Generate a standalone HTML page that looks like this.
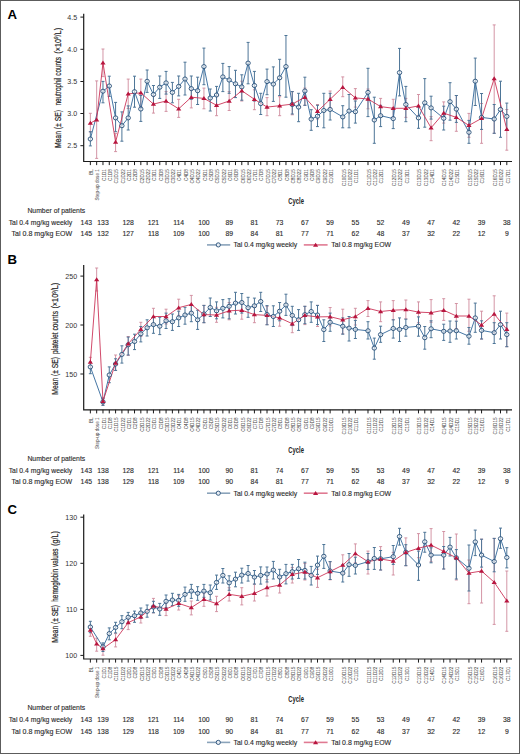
<!DOCTYPE html>
<html><head><meta charset="utf-8"><style>
html,body{margin:0;padding:0;background:#fff;}
body{width:520px;height:754px;overflow:hidden;}
svg{display:block;}
#w{width:520px;height:754px;}
text{font-family:"Liberation Sans",sans-serif;fill:#2a2a2a;}
.pl{font-size:13.2px;font-weight:bold;fill:#000;}
.yt{font-size:8.5px;fill:#222;stroke:#222;stroke-width:0.18px;}
.ytl{font-size:7.1px;text-anchor:end;fill:#333;}
.xl{font-size:4.65px;text-anchor:end;fill:#444;}
.cy{font-size:9.7px;font-weight:bold;fill:#222;}
.tb{font-size:6.85px;fill:#2a2a2a;stroke:#2a2a2a;stroke-width:0.12px;}
.ax{fill:none;stroke:#1a1a1a;stroke-width:1.2;}
.tk{fill:none;stroke:#1a1a1a;stroke-width:1.0;}
</style></head><body>
<div id="w"><svg width="520" height="754" viewBox="0 0 520 754">
<rect x="0" y="0" width="520" height="754" fill="#fff"/>
<g>
<rect x="0.5" y="0.5" width="519" height="753" fill="#fff" stroke="#5c5c5c" stroke-width="1"/>
<text x="7.6" y="18.5" class="pl">A</text>
<text class="yt" transform="translate(60.7,148.1) rotate(-90)" textLength="38.2" lengthAdjust="spacingAndGlyphs">Mean (± SE)</text>
<text class="yt" transform="translate(60.7,105.6) rotate(-90)" textLength="48.6" lengthAdjust="spacingAndGlyphs">neutrophil counts</text>
<text class="yt" transform="translate(60.7,53.8) rotate(-90)" textLength="25.9" lengthAdjust="spacingAndGlyphs">(×10<tspan font-size="5.4" dy="-2.7">9</tspan><tspan dy="2.7">/L)</tspan></text>
<path d="M83.7 13.8V161.5H512" class="ax"/>
<path d="M80.4 17.1H83.7" class="tk"/>
<text x="77.2" y="19.6" class="ytl">4.5</text>
<path d="M80.4 49.3H83.7" class="tk"/>
<text x="77.2" y="51.8" class="ytl">4.0</text>
<path d="M80.4 81.5H83.7" class="tk"/>
<text x="77.2" y="84.0" class="ytl">3.5</text>
<path d="M80.4 113.5H83.7" class="tk"/>
<text x="77.2" y="116.0" class="ytl">3.0</text>
<path d="M80.4 145.7H83.7" class="tk"/>
<text x="77.2" y="148.2" class="ytl">2.5</text>
<path d="M90.35 161.5v3.6M96.66 161.5v3.6M102.97 161.5v3.6M109.28 161.5v3.6M115.59 161.5v3.6M121.90 161.5v3.6M128.21 161.5v3.6M134.52 161.5v3.6M140.83 161.5v3.6M147.14 161.5v3.6M153.45 161.5v3.6M159.76 161.5v3.6M166.07 161.5v3.6M172.38 161.5v3.6M178.69 161.5v3.6M185.00 161.5v3.6M191.31 161.5v3.6M197.62 161.5v3.6M203.93 161.5v3.6M210.24 161.5v3.6M216.55 161.5v3.6M222.86 161.5v3.6M229.17 161.5v3.6M235.48 161.5v3.6M241.79 161.5v3.6M248.10 161.5v3.6M254.41 161.5v3.6M260.72 161.5v3.6M267.03 161.5v3.6M273.34 161.5v3.6M279.65 161.5v3.6M285.96 161.5v3.6M292.27 161.5v3.6M298.58 161.5v3.6M304.89 161.5v3.6M311.20 161.5v3.6M317.51 161.5v3.6M323.82 161.5v3.6M330.13 161.5v3.6M342.75 161.5v3.6M349.06 161.5v3.6M355.37 161.5v3.6M367.99 161.5v3.6M374.30 161.5v3.6M380.61 161.5v3.6M393.23 161.5v3.6M399.54 161.5v3.6M405.85 161.5v3.6M418.47 161.5v3.6M424.78 161.5v3.6M431.09 161.5v3.6M443.71 161.5v3.6M450.02 161.5v3.6M456.33 161.5v3.6M468.95 161.5v3.6M475.26 161.5v3.6M481.57 161.5v3.6M494.19 161.5v3.6M500.50 161.5v3.6M506.81 161.5v3.6" class="tk"/>
<text class="xl" transform="translate(93.10,169.1) rotate(-90)">BL</text>
<text class="xl" transform="translate(99.41,169.1) rotate(-90)">Step-up dose 1</text>
<text class="xl" transform="translate(105.72,169.1) rotate(-90)">C1D1</text>
<text class="xl" transform="translate(112.03,169.1) rotate(-90)">C1D8</text>
<text class="xl" transform="translate(118.34,169.1) rotate(-90)">C1D15</text>
<text class="xl" transform="translate(124.65,169.1) rotate(-90)">C1D22</text>
<text class="xl" transform="translate(130.96,169.1) rotate(-90)">C2D1</text>
<text class="xl" transform="translate(137.27,169.1) rotate(-90)">C2D8</text>
<text class="xl" transform="translate(143.58,169.1) rotate(-90)">C2D15</text>
<text class="xl" transform="translate(149.89,169.1) rotate(-90)">C2D22</text>
<text class="xl" transform="translate(156.20,169.1) rotate(-90)">C3D1</text>
<text class="xl" transform="translate(162.51,169.1) rotate(-90)">C3D8</text>
<text class="xl" transform="translate(168.82,169.1) rotate(-90)">C3D15</text>
<text class="xl" transform="translate(175.13,169.1) rotate(-90)">C3D22</text>
<text class="xl" transform="translate(181.44,169.1) rotate(-90)">C4D1</text>
<text class="xl" transform="translate(187.75,169.1) rotate(-90)">C4D8</text>
<text class="xl" transform="translate(194.06,169.1) rotate(-90)">C4D15</text>
<text class="xl" transform="translate(200.37,169.1) rotate(-90)">C4D22</text>
<text class="xl" transform="translate(206.68,169.1) rotate(-90)">C5D1</text>
<text class="xl" transform="translate(212.99,169.1) rotate(-90)">C5D8</text>
<text class="xl" transform="translate(219.30,169.1) rotate(-90)">C5D15</text>
<text class="xl" transform="translate(225.61,169.1) rotate(-90)">C5D22</text>
<text class="xl" transform="translate(231.92,169.1) rotate(-90)">C6D1</text>
<text class="xl" transform="translate(238.23,169.1) rotate(-90)">C6D8</text>
<text class="xl" transform="translate(244.54,169.1) rotate(-90)">C6D15</text>
<text class="xl" transform="translate(250.85,169.1) rotate(-90)">C6D22</text>
<text class="xl" transform="translate(257.16,169.1) rotate(-90)">C7D1</text>
<text class="xl" transform="translate(263.47,169.1) rotate(-90)">C7D8</text>
<text class="xl" transform="translate(269.78,169.1) rotate(-90)">C7D15</text>
<text class="xl" transform="translate(276.09,169.1) rotate(-90)">C7D22</text>
<text class="xl" transform="translate(282.40,169.1) rotate(-90)">C8D1</text>
<text class="xl" transform="translate(288.71,169.1) rotate(-90)">C8D8</text>
<text class="xl" transform="translate(295.02,169.1) rotate(-90)">C8D15</text>
<text class="xl" transform="translate(301.33,169.1) rotate(-90)">C8D22</text>
<text class="xl" transform="translate(307.64,169.1) rotate(-90)">C9D1</text>
<text class="xl" transform="translate(313.95,169.1) rotate(-90)">C9D8</text>
<text class="xl" transform="translate(320.26,169.1) rotate(-90)">C9D15</text>
<text class="xl" transform="translate(326.57,169.1) rotate(-90)">C9D22</text>
<text class="xl" transform="translate(332.88,169.1) rotate(-90)">C10D1</text>
<text class="xl" transform="translate(345.50,169.1) rotate(-90)">C10D15</text>
<text class="xl" transform="translate(351.81,169.1) rotate(-90)">C10D22</text>
<text class="xl" transform="translate(358.12,169.1) rotate(-90)">C11D1</text>
<text class="xl" transform="translate(370.74,169.1) rotate(-90)">C11D15</text>
<text class="xl" transform="translate(377.05,169.1) rotate(-90)">C11D22</text>
<text class="xl" transform="translate(383.36,169.1) rotate(-90)">C12D1</text>
<text class="xl" transform="translate(395.98,169.1) rotate(-90)">C12D15</text>
<text class="xl" transform="translate(402.29,169.1) rotate(-90)">C12D22</text>
<text class="xl" transform="translate(408.60,169.1) rotate(-90)">C13D1</text>
<text class="xl" transform="translate(421.22,169.1) rotate(-90)">C13D15</text>
<text class="xl" transform="translate(427.53,169.1) rotate(-90)">C13D22</text>
<text class="xl" transform="translate(433.84,169.1) rotate(-90)">C14D1</text>
<text class="xl" transform="translate(446.46,169.1) rotate(-90)">C14D15</text>
<text class="xl" transform="translate(452.77,169.1) rotate(-90)">C14D22</text>
<text class="xl" transform="translate(459.08,169.1) rotate(-90)">C15D1</text>
<text class="xl" transform="translate(471.70,169.1) rotate(-90)">C15D15</text>
<text class="xl" transform="translate(478.01,169.1) rotate(-90)">C15D22</text>
<text class="xl" transform="translate(484.32,169.1) rotate(-90)">C16D1</text>
<text class="xl" transform="translate(496.94,169.1) rotate(-90)">C16D15</text>
<text class="xl" transform="translate(503.25,169.1) rotate(-90)">C16D22</text>
<text class="xl" transform="translate(509.56,169.1) rotate(-90)">C17D1</text>
<text x="288.3" y="204.4" class="cy" textLength="15.6" lengthAdjust="spacingAndGlyphs">Cycle</text>
<text x="27.4" y="212.7" class="tb">Number of patients</text>
<text x="72.2" y="224.7" class="tb" text-anchor="end">Tal 0.4 mg/kg weekly</text>
<text x="72.2" y="236.1" class="tb" text-anchor="end" textLength="60.6" lengthAdjust="spacingAndGlyphs">Tal 0.8 mg/kg EOW</text>
<text x="86.3" y="224.7" class="tb" text-anchor="middle">143</text>
<text x="103.0" y="224.7" class="tb" text-anchor="middle">133</text>
<text x="128.2" y="224.7" class="tb" text-anchor="middle">128</text>
<text x="153.4" y="224.7" class="tb" text-anchor="middle">121</text>
<text x="178.7" y="224.7" class="tb" text-anchor="middle">114</text>
<text x="203.9" y="224.7" class="tb" text-anchor="middle">100</text>
<text x="229.2" y="224.7" class="tb" text-anchor="middle">89</text>
<text x="254.4" y="224.7" class="tb" text-anchor="middle">81</text>
<text x="279.6" y="224.7" class="tb" text-anchor="middle">73</text>
<text x="304.9" y="224.7" class="tb" text-anchor="middle">67</text>
<text x="330.1" y="224.7" class="tb" text-anchor="middle">59</text>
<text x="355.4" y="224.7" class="tb" text-anchor="middle">55</text>
<text x="380.6" y="224.7" class="tb" text-anchor="middle">52</text>
<text x="405.9" y="224.7" class="tb" text-anchor="middle">49</text>
<text x="431.1" y="224.7" class="tb" text-anchor="middle">47</text>
<text x="456.3" y="224.7" class="tb" text-anchor="middle">42</text>
<text x="481.6" y="224.7" class="tb" text-anchor="middle">39</text>
<text x="506.8" y="224.7" class="tb" text-anchor="middle">38</text>
<text x="86.3" y="236.1" class="tb" text-anchor="middle">145</text>
<text x="103.0" y="236.1" class="tb" text-anchor="middle">132</text>
<text x="128.2" y="236.1" class="tb" text-anchor="middle">127</text>
<text x="153.4" y="236.1" class="tb" text-anchor="middle">118</text>
<text x="178.7" y="236.1" class="tb" text-anchor="middle">109</text>
<text x="203.9" y="236.1" class="tb" text-anchor="middle">100</text>
<text x="229.2" y="236.1" class="tb" text-anchor="middle">89</text>
<text x="254.4" y="236.1" class="tb" text-anchor="middle">84</text>
<text x="279.6" y="236.1" class="tb" text-anchor="middle">81</text>
<text x="304.9" y="236.1" class="tb" text-anchor="middle">77</text>
<text x="330.1" y="236.1" class="tb" text-anchor="middle">71</text>
<text x="355.4" y="236.1" class="tb" text-anchor="middle">62</text>
<text x="380.6" y="236.1" class="tb" text-anchor="middle">48</text>
<text x="405.9" y="236.1" class="tb" text-anchor="middle">37</text>
<text x="431.1" y="236.1" class="tb" text-anchor="middle">32</text>
<text x="456.3" y="236.1" class="tb" text-anchor="middle">22</text>
<text x="481.6" y="236.1" class="tb" text-anchor="middle">12</text>
<text x="506.8" y="236.1" class="tb" text-anchor="middle">9</text>
<path d="M207 244.9H230.2" stroke="#8aa3ba" stroke-width="1.6"/>
<circle cx="218.3" cy="244.9" r="2.1" fill="#e8eef4" stroke="#254d76" stroke-width="0.9"/>
<text x="233.6" y="247.3" class="tb">Tal 0.4 mg/kg weekly</text>
<path d="M303.8 244.9H327.6" stroke="#e07a92" stroke-width="1.6"/>
<path d="M315.6 242.8l2.6 4h-5.2z" fill="#b8163f"/>
<text x="331.3" y="247.3" class="tb" textLength="59.8" lengthAdjust="spacingAndGlyphs">Tal 0.8 mg/kg EOW</text>
<path d="M90.35 113.3V132.0M88.85 113.3h3M88.85 132.0h3M96.66 80.9V158.4M95.16 80.9h3M95.16 158.4h3M102.97 49.0V76.6M101.47 49.0h3M101.47 76.6h3M115.59 133.4V151.6M114.09 133.4h3M114.09 151.6h3M128.21 79.1V108.5M126.71 79.1h3M126.71 108.5h3M140.83 79.1V106.7M139.33 79.1h3M139.33 106.7h3M153.45 95.9V113.1M151.95 95.9h3M151.95 113.1h3M166.07 91.6V111.4M164.57 91.6h3M164.57 111.4h3M178.69 99.3V117.4M177.19 99.3h3M177.19 117.4h3M191.31 89.8V107.9M189.81 89.8h3M189.81 107.9h3M203.93 88.1V108.8M202.43 88.1h3M202.43 108.8h3M216.55 95.9V115.7M215.05 95.9h3M215.05 115.7h3M229.17 91.6V110.5M227.67 91.6h3M227.67 110.5h3M241.79 81.2V101.0M240.29 81.2h3M240.29 101.0h3M254.41 89.8V109.7M252.91 89.8h3M252.91 109.7h3M267.03 97.6V115.7M265.53 97.6h3M265.53 115.7h3M279.65 96.7V115.7M278.15 96.7h3M278.15 115.7h3M292.27 91.6V114.8M290.77 91.6h3M290.77 114.8h3M304.89 88.1V105.3M303.39 88.1h3M303.39 105.3h3M317.51 104.5V119.0M316.01 104.5h3M316.01 119.0h3M330.13 91.0V107.9M328.63 91.0h3M328.63 107.9h3M342.75 76.9V96.7M341.25 76.9h3M341.25 96.7h3M355.37 88.6V107.1M353.87 88.6h3M353.87 107.1h3M367.99 89.0V108.8M366.49 89.0h3M366.49 108.8h3M380.61 98.4V115.7M379.11 98.4h3M379.11 115.7h3M393.23 99.3V117.4M391.73 99.3h3M391.73 117.4h3M405.85 98.4V117.4M404.35 98.4h3M404.35 117.4h3M418.47 94.5V115.7M416.97 94.5h3M416.97 115.7h3M431.09 116.6V140.7M429.59 116.6h3M429.59 140.7h3M443.71 101.9V123.1M442.21 101.9h3M442.21 123.1h3M456.33 95.5V131.3M454.83 95.5h3M454.83 131.3h3M468.95 113.4V137.3M467.45 113.4h3M467.45 137.3h3M481.57 103.5V143.3M480.07 103.5h3M480.07 143.3h3M494.19 24.9V133.3M492.69 24.9h3M492.69 133.3h3M506.81 109.5V150.2M505.31 109.5h3M505.31 150.2h3" stroke="#cf8a9c" stroke-width="0.9" fill="none"/>
<path d="M90.35 131.7V145.9M88.85 131.7h3M88.85 145.9h3M102.97 81.4V102.8M101.47 81.4h3M101.47 102.8h3M109.28 76.2V96.4M107.78 76.2h3M107.78 96.4h3M115.59 102.4V131.7M114.09 102.4h3M114.09 131.7h3M121.90 111.9V141.2M120.40 111.9h3M120.40 141.2h3M128.21 105.9V130.0M126.71 105.9h3M126.71 130.0h3M134.52 76.2V107.2M133.02 76.2h3M133.02 107.2h3M140.83 95.5V121.4M139.33 95.5h3M139.33 121.4h3M147.14 70.0V92.4M145.64 70.0h3M145.64 92.4h3M153.45 85.5V104.5M151.95 85.5h3M151.95 104.5h3M159.76 76.0V98.4M158.26 76.0h3M158.26 98.4h3M166.07 71.4V94.1M164.57 71.4h3M164.57 94.1h3M172.38 82.4V102.8M170.88 82.4h3M170.88 102.8h3M178.69 76.0V95.9M177.19 76.0h3M177.19 95.9h3M185.00 62.2V95.0M183.50 62.2h3M183.50 95.0h3M191.31 76.0V99.3M189.81 76.0h3M189.81 99.3h3M197.62 77.2V104.5M196.12 77.2h3M196.12 104.5h3M203.93 48.1V84.7M202.43 48.1h3M202.43 84.7h3M210.24 89.0V111.0M208.74 89.0h3M208.74 111.0h3M216.55 86.4V105.3M215.05 86.4h3M215.05 105.3h3M222.86 63.4V91.6M221.36 63.4h3M221.36 91.6h3M229.17 66.6V93.3M227.67 66.6h3M227.67 93.3h3M235.48 70.3V97.6M233.98 70.3h3M233.98 97.6h3M241.79 74.8V100.2M240.29 74.8h3M240.29 100.2h3M248.10 42.4V83.8M246.60 42.4h3M246.60 83.8h3M254.41 71.4V101.0M252.91 71.4h3M252.91 101.0h3M260.72 93.3V114.5M259.22 93.3h3M259.22 114.5h3M267.03 69.1V94.7M265.53 69.1h3M265.53 94.7h3M273.34 66.9V101.4M271.84 66.9h3M271.84 101.4h3M279.65 59.3V95.5M278.15 59.3h3M278.15 95.5h3M285.96 35.5V97.2M284.46 35.5h3M284.46 97.2h3M292.27 91.6V114.0M290.77 91.6h3M290.77 114.0h3M298.58 93.3V121.7M297.08 93.3h3M297.08 121.7h3M304.89 77.2V105.3M303.39 77.2h3M303.39 105.3h3M311.20 109.7V130.3M309.70 109.7h3M309.70 130.3h3M317.51 105.3V126.6M316.01 105.3h3M316.01 126.6h3M323.82 93.3V127.8M322.32 93.3h3M322.32 127.8h3M330.13 93.3V120.0M328.63 93.3h3M328.63 120.0h3M342.75 105.7V127.8M341.25 105.7h3M341.25 127.8h3M349.06 94.5V127.8M347.56 94.5h3M347.56 127.8h3M355.37 101.0V123.1M353.87 101.0h3M353.87 123.1h3M367.99 68.3V116.6M366.49 68.3h3M366.49 116.6h3M374.30 97.2V143.3M372.80 97.2h3M372.80 143.3h3M380.61 105.3V126.6M379.11 105.3h3M379.11 126.6h3M393.23 108.0V128.6M391.73 108.0h3M391.73 128.6h3M399.54 48.4V95.9M398.04 48.4h3M398.04 95.9h3M405.85 86.4V121.7M404.35 86.4h3M404.35 121.7h3M418.47 107.1V128.3M416.97 107.1h3M416.97 128.3h3M424.78 78.6V127.2M423.28 78.6h3M423.28 127.2h3M431.09 96.2V119.1M429.59 96.2h3M429.59 119.1h3M443.71 106.2V130.0M442.21 106.2h3M442.21 130.0h3M450.02 82.7V120.2M448.52 82.7h3M448.52 120.2h3M456.33 95.5V122.4M454.83 95.5h3M454.83 122.4h3M468.95 120.4V143.3M467.45 120.4h3M467.45 143.3h3M475.26 58.1V105.5M473.76 58.1h3M473.76 105.5h3M481.57 93.5V129.4M480.07 93.5h3M480.07 129.4h3M494.19 104.5V133.3M492.69 104.5h3M492.69 133.3h3M500.50 81.2V137.3M499.00 81.2h3M499.00 137.3h3M506.81 103.1V129.4M505.31 103.1h3M505.31 129.4h3" stroke="#4d7597" stroke-width="1.0" fill="none"/>
<polyline points="90.35,139.0 102.97,91.2 109.28,86.0 115.59,117.9 121.90,125.7 128.21,117.9 134.52,91.7 140.83,109.0 147.14,81.3 153.45,94.5 159.76,87.2 166.07,82.9 172.38,92.4 178.69,86.4 185.00,79.0 191.31,88.6 197.62,90.7 203.93,66.6 210.24,98.0 216.55,95.0 222.86,76.9 229.17,80.0 235.48,83.8 241.79,86.9 248.10,63.1 254.41,85.5 260.72,103.6 267.03,81.6 273.34,84.1 279.65,77.8 285.96,66.6 292.27,104.5 298.58,107.1 304.89,91.0 311.20,119.1 317.51,116.2 323.82,110.5 330.13,109.5 342.75,116.9 349.06,111.0 355.37,111.7 367.99,92.4 374.30,120.0 380.61,115.7 393.23,118.6 399.54,72.6 405.85,104.5 418.47,117.9 424.78,102.8 431.09,107.9 443.71,118.3 450.02,101.7 456.33,109.1 468.95,132.3 475.26,81.2 481.57,117.4 494.19,119.0 500.50,109.5 506.81,116.4" stroke="#30679a" stroke-width="0.9" fill="none" stroke-linejoin="round"/>
<polyline points="90.35,123.1 96.66,119.7 102.97,62.8 115.59,142.1 128.21,93.8 140.83,92.9 153.45,104.1 166.07,101.0 178.69,108.8 191.31,97.2 203.93,98.4 216.55,105.3 229.17,101.0 241.79,90.7 254.41,99.3 267.03,107.1 279.65,105.7 292.27,104.1 304.89,97.2 317.51,111.4 330.13,99.3 342.75,87.2 355.37,97.9 367.99,99.0 380.61,106.6 393.23,108.3 405.85,108.3 418.47,105.9 431.09,127.8 443.71,113.1 456.33,117.4 468.95,125.4 481.57,118.4 494.19,78.6 506.81,129.4" stroke="#cc3559" stroke-width="0.9" fill="none" stroke-linejoin="round"/>
<ellipse cx="90.35" cy="139.0" rx="2.2" ry="2.05" fill="#fff" fill-opacity="0.6" stroke="#254d76" stroke-width="0.9"/>
<ellipse cx="102.97" cy="91.2" rx="2.2" ry="2.05" fill="#fff" fill-opacity="0.6" stroke="#254d76" stroke-width="0.9"/>
<ellipse cx="109.28" cy="86.0" rx="2.2" ry="2.05" fill="#fff" fill-opacity="0.6" stroke="#254d76" stroke-width="0.9"/>
<ellipse cx="115.59" cy="117.9" rx="2.2" ry="2.05" fill="#fff" fill-opacity="0.6" stroke="#254d76" stroke-width="0.9"/>
<ellipse cx="121.90" cy="125.7" rx="2.2" ry="2.05" fill="#fff" fill-opacity="0.6" stroke="#254d76" stroke-width="0.9"/>
<ellipse cx="128.21" cy="117.9" rx="2.2" ry="2.05" fill="#fff" fill-opacity="0.6" stroke="#254d76" stroke-width="0.9"/>
<ellipse cx="134.52" cy="91.7" rx="2.2" ry="2.05" fill="#fff" fill-opacity="0.6" stroke="#254d76" stroke-width="0.9"/>
<ellipse cx="140.83" cy="109.0" rx="2.2" ry="2.05" fill="#fff" fill-opacity="0.6" stroke="#254d76" stroke-width="0.9"/>
<ellipse cx="147.14" cy="81.3" rx="2.2" ry="2.05" fill="#fff" fill-opacity="0.6" stroke="#254d76" stroke-width="0.9"/>
<ellipse cx="153.45" cy="94.5" rx="2.2" ry="2.05" fill="#fff" fill-opacity="0.6" stroke="#254d76" stroke-width="0.9"/>
<ellipse cx="159.76" cy="87.2" rx="2.2" ry="2.05" fill="#fff" fill-opacity="0.6" stroke="#254d76" stroke-width="0.9"/>
<ellipse cx="166.07" cy="82.9" rx="2.2" ry="2.05" fill="#fff" fill-opacity="0.6" stroke="#254d76" stroke-width="0.9"/>
<ellipse cx="172.38" cy="92.4" rx="2.2" ry="2.05" fill="#fff" fill-opacity="0.6" stroke="#254d76" stroke-width="0.9"/>
<ellipse cx="178.69" cy="86.4" rx="2.2" ry="2.05" fill="#fff" fill-opacity="0.6" stroke="#254d76" stroke-width="0.9"/>
<ellipse cx="185.00" cy="79.0" rx="2.2" ry="2.05" fill="#fff" fill-opacity="0.6" stroke="#254d76" stroke-width="0.9"/>
<ellipse cx="191.31" cy="88.6" rx="2.2" ry="2.05" fill="#fff" fill-opacity="0.6" stroke="#254d76" stroke-width="0.9"/>
<ellipse cx="197.62" cy="90.7" rx="2.2" ry="2.05" fill="#fff" fill-opacity="0.6" stroke="#254d76" stroke-width="0.9"/>
<ellipse cx="203.93" cy="66.6" rx="2.2" ry="2.05" fill="#fff" fill-opacity="0.6" stroke="#254d76" stroke-width="0.9"/>
<ellipse cx="210.24" cy="98.0" rx="2.2" ry="2.05" fill="#fff" fill-opacity="0.6" stroke="#254d76" stroke-width="0.9"/>
<ellipse cx="216.55" cy="95.0" rx="2.2" ry="2.05" fill="#fff" fill-opacity="0.6" stroke="#254d76" stroke-width="0.9"/>
<ellipse cx="222.86" cy="76.9" rx="2.2" ry="2.05" fill="#fff" fill-opacity="0.6" stroke="#254d76" stroke-width="0.9"/>
<ellipse cx="229.17" cy="80.0" rx="2.2" ry="2.05" fill="#fff" fill-opacity="0.6" stroke="#254d76" stroke-width="0.9"/>
<ellipse cx="235.48" cy="83.8" rx="2.2" ry="2.05" fill="#fff" fill-opacity="0.6" stroke="#254d76" stroke-width="0.9"/>
<ellipse cx="241.79" cy="86.9" rx="2.2" ry="2.05" fill="#fff" fill-opacity="0.6" stroke="#254d76" stroke-width="0.9"/>
<ellipse cx="248.10" cy="63.1" rx="2.2" ry="2.05" fill="#fff" fill-opacity="0.6" stroke="#254d76" stroke-width="0.9"/>
<ellipse cx="254.41" cy="85.5" rx="2.2" ry="2.05" fill="#fff" fill-opacity="0.6" stroke="#254d76" stroke-width="0.9"/>
<ellipse cx="260.72" cy="103.6" rx="2.2" ry="2.05" fill="#fff" fill-opacity="0.6" stroke="#254d76" stroke-width="0.9"/>
<ellipse cx="267.03" cy="81.6" rx="2.2" ry="2.05" fill="#fff" fill-opacity="0.6" stroke="#254d76" stroke-width="0.9"/>
<ellipse cx="273.34" cy="84.1" rx="2.2" ry="2.05" fill="#fff" fill-opacity="0.6" stroke="#254d76" stroke-width="0.9"/>
<ellipse cx="279.65" cy="77.8" rx="2.2" ry="2.05" fill="#fff" fill-opacity="0.6" stroke="#254d76" stroke-width="0.9"/>
<ellipse cx="285.96" cy="66.6" rx="2.2" ry="2.05" fill="#fff" fill-opacity="0.6" stroke="#254d76" stroke-width="0.9"/>
<ellipse cx="292.27" cy="104.5" rx="2.2" ry="2.05" fill="#fff" fill-opacity="0.6" stroke="#254d76" stroke-width="0.9"/>
<ellipse cx="298.58" cy="107.1" rx="2.2" ry="2.05" fill="#fff" fill-opacity="0.6" stroke="#254d76" stroke-width="0.9"/>
<ellipse cx="304.89" cy="91.0" rx="2.2" ry="2.05" fill="#fff" fill-opacity="0.6" stroke="#254d76" stroke-width="0.9"/>
<ellipse cx="311.20" cy="119.1" rx="2.2" ry="2.05" fill="#fff" fill-opacity="0.6" stroke="#254d76" stroke-width="0.9"/>
<ellipse cx="317.51" cy="116.2" rx="2.2" ry="2.05" fill="#fff" fill-opacity="0.6" stroke="#254d76" stroke-width="0.9"/>
<ellipse cx="323.82" cy="110.5" rx="2.2" ry="2.05" fill="#fff" fill-opacity="0.6" stroke="#254d76" stroke-width="0.9"/>
<ellipse cx="330.13" cy="109.5" rx="2.2" ry="2.05" fill="#fff" fill-opacity="0.6" stroke="#254d76" stroke-width="0.9"/>
<ellipse cx="342.75" cy="116.9" rx="2.2" ry="2.05" fill="#fff" fill-opacity="0.6" stroke="#254d76" stroke-width="0.9"/>
<ellipse cx="349.06" cy="111.0" rx="2.2" ry="2.05" fill="#fff" fill-opacity="0.6" stroke="#254d76" stroke-width="0.9"/>
<ellipse cx="355.37" cy="111.7" rx="2.2" ry="2.05" fill="#fff" fill-opacity="0.6" stroke="#254d76" stroke-width="0.9"/>
<ellipse cx="367.99" cy="92.4" rx="2.2" ry="2.05" fill="#fff" fill-opacity="0.6" stroke="#254d76" stroke-width="0.9"/>
<ellipse cx="374.30" cy="120.0" rx="2.2" ry="2.05" fill="#fff" fill-opacity="0.6" stroke="#254d76" stroke-width="0.9"/>
<ellipse cx="380.61" cy="115.7" rx="2.2" ry="2.05" fill="#fff" fill-opacity="0.6" stroke="#254d76" stroke-width="0.9"/>
<ellipse cx="393.23" cy="118.6" rx="2.2" ry="2.05" fill="#fff" fill-opacity="0.6" stroke="#254d76" stroke-width="0.9"/>
<ellipse cx="399.54" cy="72.6" rx="2.2" ry="2.05" fill="#fff" fill-opacity="0.6" stroke="#254d76" stroke-width="0.9"/>
<ellipse cx="405.85" cy="104.5" rx="2.2" ry="2.05" fill="#fff" fill-opacity="0.6" stroke="#254d76" stroke-width="0.9"/>
<ellipse cx="418.47" cy="117.9" rx="2.2" ry="2.05" fill="#fff" fill-opacity="0.6" stroke="#254d76" stroke-width="0.9"/>
<ellipse cx="424.78" cy="102.8" rx="2.2" ry="2.05" fill="#fff" fill-opacity="0.6" stroke="#254d76" stroke-width="0.9"/>
<ellipse cx="431.09" cy="107.9" rx="2.2" ry="2.05" fill="#fff" fill-opacity="0.6" stroke="#254d76" stroke-width="0.9"/>
<ellipse cx="443.71" cy="118.3" rx="2.2" ry="2.05" fill="#fff" fill-opacity="0.6" stroke="#254d76" stroke-width="0.9"/>
<ellipse cx="450.02" cy="101.7" rx="2.2" ry="2.05" fill="#fff" fill-opacity="0.6" stroke="#254d76" stroke-width="0.9"/>
<ellipse cx="456.33" cy="109.1" rx="2.2" ry="2.05" fill="#fff" fill-opacity="0.6" stroke="#254d76" stroke-width="0.9"/>
<ellipse cx="468.95" cy="132.3" rx="2.2" ry="2.05" fill="#fff" fill-opacity="0.6" stroke="#254d76" stroke-width="0.9"/>
<ellipse cx="475.26" cy="81.2" rx="2.2" ry="2.05" fill="#fff" fill-opacity="0.6" stroke="#254d76" stroke-width="0.9"/>
<ellipse cx="481.57" cy="117.4" rx="2.2" ry="2.05" fill="#fff" fill-opacity="0.6" stroke="#254d76" stroke-width="0.9"/>
<ellipse cx="494.19" cy="119.0" rx="2.2" ry="2.05" fill="#fff" fill-opacity="0.6" stroke="#254d76" stroke-width="0.9"/>
<ellipse cx="500.50" cy="109.5" rx="2.2" ry="2.05" fill="#fff" fill-opacity="0.6" stroke="#254d76" stroke-width="0.9"/>
<ellipse cx="506.81" cy="116.4" rx="2.2" ry="2.05" fill="#fff" fill-opacity="0.6" stroke="#254d76" stroke-width="0.9"/>
<path d="M90.35 120.80l2.6 4h-5.2zM96.66 117.40l2.6 4h-5.2zM102.97 60.50l2.6 4h-5.2zM115.59 139.80l2.6 4h-5.2zM128.21 91.50l2.6 4h-5.2zM140.83 90.60l2.6 4h-5.2zM153.45 101.80l2.6 4h-5.2zM166.07 98.70l2.6 4h-5.2zM178.69 106.50l2.6 4h-5.2zM191.31 94.90l2.6 4h-5.2zM203.93 96.10l2.6 4h-5.2zM216.55 103.00l2.6 4h-5.2zM229.17 98.70l2.6 4h-5.2zM241.79 88.40l2.6 4h-5.2zM254.41 97.00l2.6 4h-5.2zM267.03 104.80l2.6 4h-5.2zM279.65 103.40l2.6 4h-5.2zM292.27 101.80l2.6 4h-5.2zM304.89 94.90l2.6 4h-5.2zM317.51 109.10l2.6 4h-5.2zM330.13 97.00l2.6 4h-5.2zM342.75 84.90l2.6 4h-5.2zM355.37 95.60l2.6 4h-5.2zM367.99 96.70l2.6 4h-5.2zM380.61 104.30l2.6 4h-5.2zM393.23 106.00l2.6 4h-5.2zM405.85 106.00l2.6 4h-5.2zM418.47 103.60l2.6 4h-5.2zM431.09 125.50l2.6 4h-5.2zM443.71 110.80l2.6 4h-5.2zM456.33 115.10l2.6 4h-5.2zM468.95 123.10l2.6 4h-5.2zM481.57 116.10l2.6 4h-5.2zM494.19 76.30l2.6 4h-5.2zM506.81 127.10l2.6 4h-5.2z" fill="#b8163f"/>
<text x="7.6" y="263.6" class="pl">B</text>
<text class="yt" transform="translate(58.4,394.7) rotate(-90)" textLength="37.7" lengthAdjust="spacingAndGlyphs">Mean (± SE)</text>
<text class="yt" transform="translate(58.4,353.9) rotate(-90)" textLength="42.9" lengthAdjust="spacingAndGlyphs">platelet counts</text>
<text class="yt" transform="translate(58.4,308.6) rotate(-90)" textLength="25.9" lengthAdjust="spacingAndGlyphs">(×10<tspan font-size="5.4" dy="-2.7">9</tspan><tspan dy="2.7">/L)</tspan></text>
<path d="M83.7 265.1V409.8H512" class="ax"/>
<path d="M80.4 276.1H83.7" class="tk"/>
<text x="77.2" y="278.6" class="ytl">250</text>
<path d="M80.4 325H83.7" class="tk"/>
<text x="77.2" y="327.5" class="ytl">200</text>
<path d="M80.4 374H83.7" class="tk"/>
<text x="77.2" y="376.5" class="ytl">150</text>
<path d="M90.35 409.8v3.6M96.66 409.8v3.6M102.97 409.8v3.6M109.28 409.8v3.6M115.59 409.8v3.6M121.90 409.8v3.6M128.21 409.8v3.6M134.52 409.8v3.6M140.83 409.8v3.6M147.14 409.8v3.6M153.45 409.8v3.6M159.76 409.8v3.6M166.07 409.8v3.6M172.38 409.8v3.6M178.69 409.8v3.6M185.00 409.8v3.6M191.31 409.8v3.6M197.62 409.8v3.6M203.93 409.8v3.6M210.24 409.8v3.6M216.55 409.8v3.6M222.86 409.8v3.6M229.17 409.8v3.6M235.48 409.8v3.6M241.79 409.8v3.6M248.10 409.8v3.6M254.41 409.8v3.6M260.72 409.8v3.6M267.03 409.8v3.6M273.34 409.8v3.6M279.65 409.8v3.6M285.96 409.8v3.6M292.27 409.8v3.6M298.58 409.8v3.6M304.89 409.8v3.6M311.20 409.8v3.6M317.51 409.8v3.6M323.82 409.8v3.6M330.13 409.8v3.6M342.75 409.8v3.6M349.06 409.8v3.6M355.37 409.8v3.6M367.99 409.8v3.6M374.30 409.8v3.6M380.61 409.8v3.6M393.23 409.8v3.6M399.54 409.8v3.6M405.85 409.8v3.6M418.47 409.8v3.6M424.78 409.8v3.6M431.09 409.8v3.6M443.71 409.8v3.6M450.02 409.8v3.6M456.33 409.8v3.6M468.95 409.8v3.6M475.26 409.8v3.6M481.57 409.8v3.6M494.19 409.8v3.6M500.50 409.8v3.6M506.81 409.8v3.6" class="tk"/>
<text class="xl" transform="translate(93.10,417.4) rotate(-90)">BL</text>
<text class="xl" transform="translate(99.41,417.4) rotate(-90)">Step-up dose 1</text>
<text class="xl" transform="translate(105.72,417.4) rotate(-90)">C1D1</text>
<text class="xl" transform="translate(112.03,417.4) rotate(-90)">C1D8</text>
<text class="xl" transform="translate(118.34,417.4) rotate(-90)">C1D15</text>
<text class="xl" transform="translate(124.65,417.4) rotate(-90)">C1D22</text>
<text class="xl" transform="translate(130.96,417.4) rotate(-90)">C2D1</text>
<text class="xl" transform="translate(137.27,417.4) rotate(-90)">C2D8</text>
<text class="xl" transform="translate(143.58,417.4) rotate(-90)">C2D15</text>
<text class="xl" transform="translate(149.89,417.4) rotate(-90)">C2D22</text>
<text class="xl" transform="translate(156.20,417.4) rotate(-90)">C3D1</text>
<text class="xl" transform="translate(162.51,417.4) rotate(-90)">C3D8</text>
<text class="xl" transform="translate(168.82,417.4) rotate(-90)">C3D15</text>
<text class="xl" transform="translate(175.13,417.4) rotate(-90)">C3D22</text>
<text class="xl" transform="translate(181.44,417.4) rotate(-90)">C4D1</text>
<text class="xl" transform="translate(187.75,417.4) rotate(-90)">C4D8</text>
<text class="xl" transform="translate(194.06,417.4) rotate(-90)">C4D15</text>
<text class="xl" transform="translate(200.37,417.4) rotate(-90)">C4D22</text>
<text class="xl" transform="translate(206.68,417.4) rotate(-90)">C5D1</text>
<text class="xl" transform="translate(212.99,417.4) rotate(-90)">C5D8</text>
<text class="xl" transform="translate(219.30,417.4) rotate(-90)">C5D15</text>
<text class="xl" transform="translate(225.61,417.4) rotate(-90)">C5D22</text>
<text class="xl" transform="translate(231.92,417.4) rotate(-90)">C6D1</text>
<text class="xl" transform="translate(238.23,417.4) rotate(-90)">C6D8</text>
<text class="xl" transform="translate(244.54,417.4) rotate(-90)">C6D15</text>
<text class="xl" transform="translate(250.85,417.4) rotate(-90)">C6D22</text>
<text class="xl" transform="translate(257.16,417.4) rotate(-90)">C7D1</text>
<text class="xl" transform="translate(263.47,417.4) rotate(-90)">C7D8</text>
<text class="xl" transform="translate(269.78,417.4) rotate(-90)">C7D15</text>
<text class="xl" transform="translate(276.09,417.4) rotate(-90)">C7D22</text>
<text class="xl" transform="translate(282.40,417.4) rotate(-90)">C8D1</text>
<text class="xl" transform="translate(288.71,417.4) rotate(-90)">C8D8</text>
<text class="xl" transform="translate(295.02,417.4) rotate(-90)">C8D15</text>
<text class="xl" transform="translate(301.33,417.4) rotate(-90)">C8D22</text>
<text class="xl" transform="translate(307.64,417.4) rotate(-90)">C9D1</text>
<text class="xl" transform="translate(313.95,417.4) rotate(-90)">C9D8</text>
<text class="xl" transform="translate(320.26,417.4) rotate(-90)">C9D15</text>
<text class="xl" transform="translate(326.57,417.4) rotate(-90)">C9D22</text>
<text class="xl" transform="translate(332.88,417.4) rotate(-90)">C10D1</text>
<text class="xl" transform="translate(345.50,417.4) rotate(-90)">C10D15</text>
<text class="xl" transform="translate(351.81,417.4) rotate(-90)">C10D22</text>
<text class="xl" transform="translate(358.12,417.4) rotate(-90)">C11D1</text>
<text class="xl" transform="translate(370.74,417.4) rotate(-90)">C11D15</text>
<text class="xl" transform="translate(377.05,417.4) rotate(-90)">C11D22</text>
<text class="xl" transform="translate(383.36,417.4) rotate(-90)">C12D1</text>
<text class="xl" transform="translate(395.98,417.4) rotate(-90)">C12D15</text>
<text class="xl" transform="translate(402.29,417.4) rotate(-90)">C12D22</text>
<text class="xl" transform="translate(408.60,417.4) rotate(-90)">C13D1</text>
<text class="xl" transform="translate(421.22,417.4) rotate(-90)">C13D15</text>
<text class="xl" transform="translate(427.53,417.4) rotate(-90)">C13D22</text>
<text class="xl" transform="translate(433.84,417.4) rotate(-90)">C14D1</text>
<text class="xl" transform="translate(446.46,417.4) rotate(-90)">C14D15</text>
<text class="xl" transform="translate(452.77,417.4) rotate(-90)">C14D22</text>
<text class="xl" transform="translate(459.08,417.4) rotate(-90)">C15D1</text>
<text class="xl" transform="translate(471.70,417.4) rotate(-90)">C15D15</text>
<text class="xl" transform="translate(478.01,417.4) rotate(-90)">C15D22</text>
<text class="xl" transform="translate(484.32,417.4) rotate(-90)">C16D1</text>
<text class="xl" transform="translate(496.94,417.4) rotate(-90)">C16D15</text>
<text class="xl" transform="translate(503.25,417.4) rotate(-90)">C16D22</text>
<text class="xl" transform="translate(509.56,417.4) rotate(-90)">C17D1</text>
<text x="288.3" y="452.7" class="cy" textLength="15.6" lengthAdjust="spacingAndGlyphs">Cycle</text>
<text x="27.4" y="461.0" class="tb">Number of patients</text>
<text x="72.2" y="473.0" class="tb" text-anchor="end">Tal 0.4 mg/kg weekly</text>
<text x="72.2" y="484.4" class="tb" text-anchor="end" textLength="60.6" lengthAdjust="spacingAndGlyphs">Tal 0.8 mg/kg EOW</text>
<text x="86.3" y="473.0" class="tb" text-anchor="middle">143</text>
<text x="103.0" y="473.0" class="tb" text-anchor="middle">138</text>
<text x="128.2" y="473.0" class="tb" text-anchor="middle">128</text>
<text x="153.4" y="473.0" class="tb" text-anchor="middle">121</text>
<text x="178.7" y="473.0" class="tb" text-anchor="middle">114</text>
<text x="203.9" y="473.0" class="tb" text-anchor="middle">100</text>
<text x="229.2" y="473.0" class="tb" text-anchor="middle">90</text>
<text x="254.4" y="473.0" class="tb" text-anchor="middle">81</text>
<text x="279.6" y="473.0" class="tb" text-anchor="middle">74</text>
<text x="304.9" y="473.0" class="tb" text-anchor="middle">67</text>
<text x="330.1" y="473.0" class="tb" text-anchor="middle">59</text>
<text x="355.4" y="473.0" class="tb" text-anchor="middle">55</text>
<text x="380.6" y="473.0" class="tb" text-anchor="middle">53</text>
<text x="405.9" y="473.0" class="tb" text-anchor="middle">49</text>
<text x="431.1" y="473.0" class="tb" text-anchor="middle">47</text>
<text x="456.3" y="473.0" class="tb" text-anchor="middle">42</text>
<text x="481.6" y="473.0" class="tb" text-anchor="middle">39</text>
<text x="506.8" y="473.0" class="tb" text-anchor="middle">38</text>
<text x="86.3" y="484.4" class="tb" text-anchor="middle">145</text>
<text x="103.0" y="484.4" class="tb" text-anchor="middle">138</text>
<text x="128.2" y="484.4" class="tb" text-anchor="middle">129</text>
<text x="153.4" y="484.4" class="tb" text-anchor="middle">118</text>
<text x="178.7" y="484.4" class="tb" text-anchor="middle">109</text>
<text x="203.9" y="484.4" class="tb" text-anchor="middle">100</text>
<text x="229.2" y="484.4" class="tb" text-anchor="middle">90</text>
<text x="254.4" y="484.4" class="tb" text-anchor="middle">84</text>
<text x="279.6" y="484.4" class="tb" text-anchor="middle">81</text>
<text x="304.9" y="484.4" class="tb" text-anchor="middle">77</text>
<text x="330.1" y="484.4" class="tb" text-anchor="middle">71</text>
<text x="355.4" y="484.4" class="tb" text-anchor="middle">62</text>
<text x="380.6" y="484.4" class="tb" text-anchor="middle">48</text>
<text x="405.9" y="484.4" class="tb" text-anchor="middle">37</text>
<text x="431.1" y="484.4" class="tb" text-anchor="middle">32</text>
<text x="456.3" y="484.4" class="tb" text-anchor="middle">22</text>
<text x="481.6" y="484.4" class="tb" text-anchor="middle">12</text>
<text x="506.8" y="484.4" class="tb" text-anchor="middle">9</text>
<path d="M207 493.2H230.2" stroke="#8aa3ba" stroke-width="1.6"/>
<circle cx="218.3" cy="493.2" r="2.1" fill="#e8eef4" stroke="#254d76" stroke-width="0.9"/>
<text x="233.6" y="495.6" class="tb">Tal 0.4 mg/kg weekly</text>
<path d="M303.8 493.2H327.6" stroke="#e07a92" stroke-width="1.6"/>
<path d="M315.6 491.1l2.6 4h-5.2z" fill="#b8163f"/>
<text x="331.3" y="495.6" class="tb" textLength="59.8" lengthAdjust="spacingAndGlyphs">Tal 0.8 mg/kg EOW</text>
<path d="M90.35 357.3V366.0M88.85 357.3h3M88.85 366.0h3M96.66 268.0V291.0M95.16 268.0h3M95.16 291.0h3M102.97 397.7V405.0M101.47 397.7h3M101.47 405.0h3M115.59 355.0V370.4M114.09 355.0h3M114.09 370.4h3M128.21 336.5V355.4M126.71 336.5h3M126.71 355.4h3M140.83 322.3V336.5M139.33 322.3h3M139.33 336.5h3M153.45 308.3V324.6M151.95 308.3h3M151.95 324.6h3M166.07 309.2V324.0M164.57 309.2h3M164.57 324.0h3M178.69 299.2V315.4M177.19 299.2h3M177.19 315.4h3M191.31 295.4V312.1M189.81 295.4h3M189.81 312.1h3M203.93 305.4V322.7M202.43 305.4h3M202.43 322.7h3M216.55 307.3V322.3M215.05 307.3h3M215.05 322.3h3M229.17 302.5V319.8M227.67 302.5h3M227.67 319.8h3M241.79 301.9V319.2M240.29 301.9h3M240.29 319.2h3M254.41 306.3V322.7M252.91 306.3h3M252.91 322.7h3M267.03 306.3V324.6M265.53 306.3h3M265.53 324.6h3M279.65 309.6V326.2M278.15 309.6h3M278.15 326.2h3M292.27 315.4V332.7M290.77 315.4h3M290.77 332.7h3M304.89 306.3V324.6M303.39 306.3h3M303.39 324.6h3M317.51 305.4V326.5M316.01 305.4h3M316.01 326.5h3M330.13 307.5V325.9M328.63 307.5h3M328.63 325.9h3M342.75 309.2V333.8M341.25 309.2h3M341.25 333.8h3M355.37 308.3V325.0M353.87 308.3h3M353.87 325.0h3M367.99 300.6V316.5M366.49 300.6h3M366.49 316.5h3M380.61 301.9V321.7M379.11 301.9h3M379.11 321.7h3M393.23 300.6V319.8M391.73 300.6h3M391.73 319.8h3M405.85 300.0V318.8M404.35 300.0h3M404.35 318.8h3M418.47 301.9V322.7M416.97 301.9h3M416.97 322.7h3M431.09 299.6V322.3M429.59 299.6h3M429.59 322.3h3M443.71 298.7V320.4M442.21 298.7h3M442.21 320.4h3M456.33 303.5V328.5M454.83 303.5h3M454.83 328.5h3M468.95 299.2V331.3M467.45 299.2h3M467.45 331.3h3M481.57 311.2V339.0M480.07 311.2h3M480.07 339.0h3M494.19 295.8V333.3M492.69 295.8h3M492.69 333.3h3M506.81 313.1V346.7M505.31 313.1h3M505.31 346.7h3" stroke="#cf8a9c" stroke-width="0.9" fill="none"/>
<path d="M90.35 362.1V373.7M88.85 362.1h3M88.85 373.7h3M102.97 398.7V405.4M101.47 398.7h3M101.47 405.4h3M109.28 366.9V382.7M107.78 366.9h3M107.78 382.7h3M115.59 358.8V370.4M114.09 358.8h3M114.09 370.4h3M121.90 345.8V363.1M120.40 345.8h3M120.40 363.1h3M128.21 337.1V355.0M126.71 337.1h3M126.71 355.0h3M134.52 334.2V349.6M133.02 334.2h3M133.02 349.6h3M140.83 326.5V341.9M139.33 326.5h3M139.33 341.9h3M147.14 319.8V336.0M145.64 319.8h3M145.64 336.0h3M153.45 317.0V333.3M151.95 317.0h3M151.95 333.3h3M159.76 317.3V334.6M158.26 317.3h3M158.26 334.6h3M166.07 313.1V328.5M164.57 313.1h3M164.57 328.5h3M172.38 314.0V330.4M170.88 314.0h3M170.88 330.4h3M178.69 311.2V326.5M177.19 311.2h3M177.19 326.5h3M185.00 307.3V324.2M183.50 307.3h3M183.50 324.2h3M191.31 305.4V321.7M189.81 305.4h3M189.81 321.7h3M197.62 310.2V329.4M196.12 310.2h3M196.12 329.4h3M203.93 305.4V322.7M202.43 305.4h3M202.43 322.7h3M210.24 298.0V316.5M208.74 298.0h3M208.74 316.5h3M216.55 301.9V318.8M215.05 301.9h3M215.05 318.8h3M222.86 299.6V317.9M221.36 299.6h3M221.36 317.9h3M229.17 298.7V318.8M227.67 298.7h3M227.67 318.8h3M235.48 292.3V314.0M233.98 292.3h3M233.98 314.0h3M241.79 293.5V313.1M240.29 293.5h3M240.29 313.1h3M248.10 297.3V317.3M246.60 297.3h3M246.60 317.3h3M254.41 298.1V315.4M252.91 298.1h3M252.91 315.4h3M260.72 292.3V311.5M259.22 292.3h3M259.22 311.5h3M267.03 305.6V324.8M265.53 305.6h3M265.53 324.8h3M273.34 305.8V326.5M271.84 305.8h3M271.84 326.5h3M279.65 302.5V320.8M278.15 302.5h3M278.15 320.8h3M285.96 294.2V315.4M284.46 294.2h3M284.46 315.4h3M292.27 306.3V325.6M290.77 306.3h3M290.77 325.6h3M298.58 309.6V330.4M297.08 309.6h3M297.08 330.4h3M304.89 306.3V323.7M303.39 306.3h3M303.39 323.7h3M311.20 301.9V322.3M309.70 301.9h3M309.70 322.3h3M317.51 305.4V324.6M316.01 305.4h3M316.01 324.6h3M323.82 319.8V341.5M322.32 319.8h3M322.32 341.5h3M330.13 313.1V331.3M328.63 313.1h3M328.63 331.3h3M342.75 317.9V334.2M341.25 317.9h3M341.25 334.2h3M349.06 316.5V341.0M347.56 316.5h3M347.56 341.0h3M355.37 320.4V338.5M353.87 320.4h3M353.87 338.5h3M367.99 321.7V339.0M366.49 321.7h3M366.49 339.0h3M374.30 338.1V359.2M372.80 338.1h3M372.80 359.2h3M380.61 326.2V342.3M379.11 326.2h3M379.11 342.3h3M393.23 319.8V338.1M391.73 319.8h3M391.73 338.1h3M399.54 317.9V341.5M398.04 317.9h3M398.04 341.5h3M405.85 319.2V336.2M404.35 319.2h3M404.35 336.2h3M418.47 316.9V336.2M416.97 316.9h3M416.97 336.2h3M424.78 326.5V349.2M423.28 326.5h3M423.28 349.2h3M431.09 320.8V337.7M429.59 320.8h3M429.59 337.7h3M443.71 324.2V340.4M442.21 324.2h3M442.21 340.4h3M450.02 321.0V342.3M448.52 321.0h3M448.52 342.3h3M456.33 321.2V339.0M454.83 321.2h3M454.83 339.0h3M468.95 327.5V344.2M467.45 327.5h3M467.45 344.2h3M475.26 303.1V332.3M473.76 303.1h3M473.76 332.3h3M481.57 320.8V339.0M480.07 320.8h3M480.07 339.0h3M494.19 322.7V343.5M492.69 322.7h3M492.69 343.5h3M500.50 311.2V339.0M499.00 311.2h3M499.00 339.0h3M506.81 322.7V346.7M505.31 322.7h3M505.31 346.7h3" stroke="#4d7597" stroke-width="1.0" fill="none"/>
<polyline points="90.35,366.9 102.97,401.9 109.28,375.0 115.59,364.0 121.90,354.4 128.21,344.8 134.52,341.5 140.83,333.8 147.14,327.8 153.45,324.6 159.76,326.2 166.07,320.8 172.38,321.7 178.69,317.9 185.00,315.0 191.31,313.1 197.62,319.8 203.93,314.0 210.24,307.5 216.55,310.8 222.86,308.3 229.17,306.3 235.48,303.1 241.79,302.5 248.10,307.7 254.41,305.8 260.72,301.5 267.03,314.5 273.34,316.5 279.65,311.2 285.96,305.0 292.27,315.4 298.58,319.8 304.89,314.6 311.20,311.5 317.51,315.0 323.82,329.6 330.13,322.3 342.75,326.2 349.06,328.1 355.37,329.4 367.99,330.8 374.30,348.1 380.61,334.6 393.23,328.5 399.54,329.4 405.85,327.5 418.47,326.2 424.78,337.7 431.09,328.8 443.71,331.3 450.02,331.0 456.33,330.8 468.95,336.2 475.26,317.9 481.57,330.4 494.19,332.7 500.50,324.6 506.81,334.6" stroke="#30679a" stroke-width="0.9" fill="none" stroke-linejoin="round"/>
<polyline points="90.35,362.1 96.66,279.6 102.97,401.2 115.59,363.1 128.21,343.8 140.83,329.4 153.45,316.5 166.07,316.5 178.69,307.7 191.31,304.4 203.93,314.6 216.55,315.0 229.17,310.8 241.79,310.2 254.41,314.6 267.03,315.4 279.65,317.9 292.27,323.7 304.89,315.4 317.51,316.9 330.13,316.7 342.75,319.8 355.37,316.5 367.99,308.3 380.61,311.5 393.23,310.2 405.85,309.6 418.47,312.1 431.09,312.7 443.71,310.2 456.33,316.0 468.95,316.0 481.57,325.0 494.19,314.0 506.81,329.4" stroke="#cc3559" stroke-width="0.9" fill="none" stroke-linejoin="round"/>
<ellipse cx="90.35" cy="366.9" rx="2.2" ry="2.05" fill="#fff" fill-opacity="0.6" stroke="#254d76" stroke-width="0.9"/>
<ellipse cx="102.97" cy="401.9" rx="2.2" ry="2.05" fill="#fff" fill-opacity="0.6" stroke="#254d76" stroke-width="0.9"/>
<ellipse cx="109.28" cy="375.0" rx="2.2" ry="2.05" fill="#fff" fill-opacity="0.6" stroke="#254d76" stroke-width="0.9"/>
<ellipse cx="115.59" cy="364.0" rx="2.2" ry="2.05" fill="#fff" fill-opacity="0.6" stroke="#254d76" stroke-width="0.9"/>
<ellipse cx="121.90" cy="354.4" rx="2.2" ry="2.05" fill="#fff" fill-opacity="0.6" stroke="#254d76" stroke-width="0.9"/>
<ellipse cx="128.21" cy="344.8" rx="2.2" ry="2.05" fill="#fff" fill-opacity="0.6" stroke="#254d76" stroke-width="0.9"/>
<ellipse cx="134.52" cy="341.5" rx="2.2" ry="2.05" fill="#fff" fill-opacity="0.6" stroke="#254d76" stroke-width="0.9"/>
<ellipse cx="140.83" cy="333.8" rx="2.2" ry="2.05" fill="#fff" fill-opacity="0.6" stroke="#254d76" stroke-width="0.9"/>
<ellipse cx="147.14" cy="327.8" rx="2.2" ry="2.05" fill="#fff" fill-opacity="0.6" stroke="#254d76" stroke-width="0.9"/>
<ellipse cx="153.45" cy="324.6" rx="2.2" ry="2.05" fill="#fff" fill-opacity="0.6" stroke="#254d76" stroke-width="0.9"/>
<ellipse cx="159.76" cy="326.2" rx="2.2" ry="2.05" fill="#fff" fill-opacity="0.6" stroke="#254d76" stroke-width="0.9"/>
<ellipse cx="166.07" cy="320.8" rx="2.2" ry="2.05" fill="#fff" fill-opacity="0.6" stroke="#254d76" stroke-width="0.9"/>
<ellipse cx="172.38" cy="321.7" rx="2.2" ry="2.05" fill="#fff" fill-opacity="0.6" stroke="#254d76" stroke-width="0.9"/>
<ellipse cx="178.69" cy="317.9" rx="2.2" ry="2.05" fill="#fff" fill-opacity="0.6" stroke="#254d76" stroke-width="0.9"/>
<ellipse cx="185.00" cy="315.0" rx="2.2" ry="2.05" fill="#fff" fill-opacity="0.6" stroke="#254d76" stroke-width="0.9"/>
<ellipse cx="191.31" cy="313.1" rx="2.2" ry="2.05" fill="#fff" fill-opacity="0.6" stroke="#254d76" stroke-width="0.9"/>
<ellipse cx="197.62" cy="319.8" rx="2.2" ry="2.05" fill="#fff" fill-opacity="0.6" stroke="#254d76" stroke-width="0.9"/>
<ellipse cx="203.93" cy="314.0" rx="2.2" ry="2.05" fill="#fff" fill-opacity="0.6" stroke="#254d76" stroke-width="0.9"/>
<ellipse cx="210.24" cy="307.5" rx="2.2" ry="2.05" fill="#fff" fill-opacity="0.6" stroke="#254d76" stroke-width="0.9"/>
<ellipse cx="216.55" cy="310.8" rx="2.2" ry="2.05" fill="#fff" fill-opacity="0.6" stroke="#254d76" stroke-width="0.9"/>
<ellipse cx="222.86" cy="308.3" rx="2.2" ry="2.05" fill="#fff" fill-opacity="0.6" stroke="#254d76" stroke-width="0.9"/>
<ellipse cx="229.17" cy="306.3" rx="2.2" ry="2.05" fill="#fff" fill-opacity="0.6" stroke="#254d76" stroke-width="0.9"/>
<ellipse cx="235.48" cy="303.1" rx="2.2" ry="2.05" fill="#fff" fill-opacity="0.6" stroke="#254d76" stroke-width="0.9"/>
<ellipse cx="241.79" cy="302.5" rx="2.2" ry="2.05" fill="#fff" fill-opacity="0.6" stroke="#254d76" stroke-width="0.9"/>
<ellipse cx="248.10" cy="307.7" rx="2.2" ry="2.05" fill="#fff" fill-opacity="0.6" stroke="#254d76" stroke-width="0.9"/>
<ellipse cx="254.41" cy="305.8" rx="2.2" ry="2.05" fill="#fff" fill-opacity="0.6" stroke="#254d76" stroke-width="0.9"/>
<ellipse cx="260.72" cy="301.5" rx="2.2" ry="2.05" fill="#fff" fill-opacity="0.6" stroke="#254d76" stroke-width="0.9"/>
<ellipse cx="267.03" cy="314.5" rx="2.2" ry="2.05" fill="#fff" fill-opacity="0.6" stroke="#254d76" stroke-width="0.9"/>
<ellipse cx="273.34" cy="316.5" rx="2.2" ry="2.05" fill="#fff" fill-opacity="0.6" stroke="#254d76" stroke-width="0.9"/>
<ellipse cx="279.65" cy="311.2" rx="2.2" ry="2.05" fill="#fff" fill-opacity="0.6" stroke="#254d76" stroke-width="0.9"/>
<ellipse cx="285.96" cy="305.0" rx="2.2" ry="2.05" fill="#fff" fill-opacity="0.6" stroke="#254d76" stroke-width="0.9"/>
<ellipse cx="292.27" cy="315.4" rx="2.2" ry="2.05" fill="#fff" fill-opacity="0.6" stroke="#254d76" stroke-width="0.9"/>
<ellipse cx="298.58" cy="319.8" rx="2.2" ry="2.05" fill="#fff" fill-opacity="0.6" stroke="#254d76" stroke-width="0.9"/>
<ellipse cx="304.89" cy="314.6" rx="2.2" ry="2.05" fill="#fff" fill-opacity="0.6" stroke="#254d76" stroke-width="0.9"/>
<ellipse cx="311.20" cy="311.5" rx="2.2" ry="2.05" fill="#fff" fill-opacity="0.6" stroke="#254d76" stroke-width="0.9"/>
<ellipse cx="317.51" cy="315.0" rx="2.2" ry="2.05" fill="#fff" fill-opacity="0.6" stroke="#254d76" stroke-width="0.9"/>
<ellipse cx="323.82" cy="329.6" rx="2.2" ry="2.05" fill="#fff" fill-opacity="0.6" stroke="#254d76" stroke-width="0.9"/>
<ellipse cx="330.13" cy="322.3" rx="2.2" ry="2.05" fill="#fff" fill-opacity="0.6" stroke="#254d76" stroke-width="0.9"/>
<ellipse cx="342.75" cy="326.2" rx="2.2" ry="2.05" fill="#fff" fill-opacity="0.6" stroke="#254d76" stroke-width="0.9"/>
<ellipse cx="349.06" cy="328.1" rx="2.2" ry="2.05" fill="#fff" fill-opacity="0.6" stroke="#254d76" stroke-width="0.9"/>
<ellipse cx="355.37" cy="329.4" rx="2.2" ry="2.05" fill="#fff" fill-opacity="0.6" stroke="#254d76" stroke-width="0.9"/>
<ellipse cx="367.99" cy="330.8" rx="2.2" ry="2.05" fill="#fff" fill-opacity="0.6" stroke="#254d76" stroke-width="0.9"/>
<ellipse cx="374.30" cy="348.1" rx="2.2" ry="2.05" fill="#fff" fill-opacity="0.6" stroke="#254d76" stroke-width="0.9"/>
<ellipse cx="380.61" cy="334.6" rx="2.2" ry="2.05" fill="#fff" fill-opacity="0.6" stroke="#254d76" stroke-width="0.9"/>
<ellipse cx="393.23" cy="328.5" rx="2.2" ry="2.05" fill="#fff" fill-opacity="0.6" stroke="#254d76" stroke-width="0.9"/>
<ellipse cx="399.54" cy="329.4" rx="2.2" ry="2.05" fill="#fff" fill-opacity="0.6" stroke="#254d76" stroke-width="0.9"/>
<ellipse cx="405.85" cy="327.5" rx="2.2" ry="2.05" fill="#fff" fill-opacity="0.6" stroke="#254d76" stroke-width="0.9"/>
<ellipse cx="418.47" cy="326.2" rx="2.2" ry="2.05" fill="#fff" fill-opacity="0.6" stroke="#254d76" stroke-width="0.9"/>
<ellipse cx="424.78" cy="337.7" rx="2.2" ry="2.05" fill="#fff" fill-opacity="0.6" stroke="#254d76" stroke-width="0.9"/>
<ellipse cx="431.09" cy="328.8" rx="2.2" ry="2.05" fill="#fff" fill-opacity="0.6" stroke="#254d76" stroke-width="0.9"/>
<ellipse cx="443.71" cy="331.3" rx="2.2" ry="2.05" fill="#fff" fill-opacity="0.6" stroke="#254d76" stroke-width="0.9"/>
<ellipse cx="450.02" cy="331.0" rx="2.2" ry="2.05" fill="#fff" fill-opacity="0.6" stroke="#254d76" stroke-width="0.9"/>
<ellipse cx="456.33" cy="330.8" rx="2.2" ry="2.05" fill="#fff" fill-opacity="0.6" stroke="#254d76" stroke-width="0.9"/>
<ellipse cx="468.95" cy="336.2" rx="2.2" ry="2.05" fill="#fff" fill-opacity="0.6" stroke="#254d76" stroke-width="0.9"/>
<ellipse cx="475.26" cy="317.9" rx="2.2" ry="2.05" fill="#fff" fill-opacity="0.6" stroke="#254d76" stroke-width="0.9"/>
<ellipse cx="481.57" cy="330.4" rx="2.2" ry="2.05" fill="#fff" fill-opacity="0.6" stroke="#254d76" stroke-width="0.9"/>
<ellipse cx="494.19" cy="332.7" rx="2.2" ry="2.05" fill="#fff" fill-opacity="0.6" stroke="#254d76" stroke-width="0.9"/>
<ellipse cx="500.50" cy="324.6" rx="2.2" ry="2.05" fill="#fff" fill-opacity="0.6" stroke="#254d76" stroke-width="0.9"/>
<ellipse cx="506.81" cy="334.6" rx="2.2" ry="2.05" fill="#fff" fill-opacity="0.6" stroke="#254d76" stroke-width="0.9"/>
<path d="M90.35 359.80l2.6 4h-5.2zM96.66 277.30l2.6 4h-5.2zM102.97 398.90l2.6 4h-5.2zM115.59 360.80l2.6 4h-5.2zM128.21 341.50l2.6 4h-5.2zM140.83 327.10l2.6 4h-5.2zM153.45 314.20l2.6 4h-5.2zM166.07 314.20l2.6 4h-5.2zM178.69 305.40l2.6 4h-5.2zM191.31 302.10l2.6 4h-5.2zM203.93 312.30l2.6 4h-5.2zM216.55 312.70l2.6 4h-5.2zM229.17 308.50l2.6 4h-5.2zM241.79 307.90l2.6 4h-5.2zM254.41 312.30l2.6 4h-5.2zM267.03 313.10l2.6 4h-5.2zM279.65 315.60l2.6 4h-5.2zM292.27 321.40l2.6 4h-5.2zM304.89 313.10l2.6 4h-5.2zM317.51 314.60l2.6 4h-5.2zM330.13 314.40l2.6 4h-5.2zM342.75 317.50l2.6 4h-5.2zM355.37 314.20l2.6 4h-5.2zM367.99 306.00l2.6 4h-5.2zM380.61 309.20l2.6 4h-5.2zM393.23 307.90l2.6 4h-5.2zM405.85 307.30l2.6 4h-5.2zM418.47 309.80l2.6 4h-5.2zM431.09 310.40l2.6 4h-5.2zM443.71 307.90l2.6 4h-5.2zM456.33 313.70l2.6 4h-5.2zM468.95 313.70l2.6 4h-5.2zM481.57 322.70l2.6 4h-5.2zM494.19 311.70l2.6 4h-5.2zM506.81 327.10l2.6 4h-5.2z" fill="#b8163f"/>
<text x="7.6" y="513.6" class="pl">C</text>
<text class="yt" transform="translate(58.0,642.7) rotate(-90)" textLength="37.8" lengthAdjust="spacingAndGlyphs">Mean (± SE)</text>
<text class="yt" transform="translate(58.0,601.7) rotate(-90)" textLength="53.1" lengthAdjust="spacingAndGlyphs">hemoglobin values</text>
<text class="yt" transform="translate(58.0,546.0) rotate(-90)" textLength="14.9" lengthAdjust="spacingAndGlyphs">(g/L)</text>
<path d="M83.7 514.6V659.0H512" class="ax"/>
<path d="M80.4 517.2H83.7" class="tk"/>
<text x="77.2" y="519.7" class="ytl">130</text>
<path d="M80.4 563.3H83.7" class="tk"/>
<text x="77.2" y="565.8" class="ytl">120</text>
<path d="M80.4 609.4H83.7" class="tk"/>
<text x="77.2" y="611.9" class="ytl">110</text>
<path d="M80.4 655.4H83.7" class="tk"/>
<text x="77.2" y="657.9" class="ytl">100</text>
<path d="M90.35 659.0v3.6M96.66 659.0v3.6M102.97 659.0v3.6M109.28 659.0v3.6M115.59 659.0v3.6M121.90 659.0v3.6M128.21 659.0v3.6M134.52 659.0v3.6M140.83 659.0v3.6M147.14 659.0v3.6M153.45 659.0v3.6M159.76 659.0v3.6M166.07 659.0v3.6M172.38 659.0v3.6M178.69 659.0v3.6M185.00 659.0v3.6M191.31 659.0v3.6M197.62 659.0v3.6M203.93 659.0v3.6M210.24 659.0v3.6M216.55 659.0v3.6M222.86 659.0v3.6M229.17 659.0v3.6M235.48 659.0v3.6M241.79 659.0v3.6M248.10 659.0v3.6M254.41 659.0v3.6M260.72 659.0v3.6M267.03 659.0v3.6M273.34 659.0v3.6M279.65 659.0v3.6M285.96 659.0v3.6M292.27 659.0v3.6M298.58 659.0v3.6M304.89 659.0v3.6M311.20 659.0v3.6M317.51 659.0v3.6M323.82 659.0v3.6M330.13 659.0v3.6M342.75 659.0v3.6M349.06 659.0v3.6M355.37 659.0v3.6M367.99 659.0v3.6M374.30 659.0v3.6M380.61 659.0v3.6M393.23 659.0v3.6M399.54 659.0v3.6M405.85 659.0v3.6M418.47 659.0v3.6M424.78 659.0v3.6M431.09 659.0v3.6M443.71 659.0v3.6M450.02 659.0v3.6M456.33 659.0v3.6M468.95 659.0v3.6M475.26 659.0v3.6M481.57 659.0v3.6M494.19 659.0v3.6M500.50 659.0v3.6M506.81 659.0v3.6" class="tk"/>
<text class="xl" transform="translate(93.10,666.6) rotate(-90)">BL</text>
<text class="xl" transform="translate(99.41,666.6) rotate(-90)">Step-up dose 1</text>
<text class="xl" transform="translate(105.72,666.6) rotate(-90)">C1D1</text>
<text class="xl" transform="translate(112.03,666.6) rotate(-90)">C1D8</text>
<text class="xl" transform="translate(118.34,666.6) rotate(-90)">C1D15</text>
<text class="xl" transform="translate(124.65,666.6) rotate(-90)">C1D22</text>
<text class="xl" transform="translate(130.96,666.6) rotate(-90)">C2D1</text>
<text class="xl" transform="translate(137.27,666.6) rotate(-90)">C2D8</text>
<text class="xl" transform="translate(143.58,666.6) rotate(-90)">C2D15</text>
<text class="xl" transform="translate(149.89,666.6) rotate(-90)">C2D22</text>
<text class="xl" transform="translate(156.20,666.6) rotate(-90)">C3D1</text>
<text class="xl" transform="translate(162.51,666.6) rotate(-90)">C3D8</text>
<text class="xl" transform="translate(168.82,666.6) rotate(-90)">C3D15</text>
<text class="xl" transform="translate(175.13,666.6) rotate(-90)">C3D22</text>
<text class="xl" transform="translate(181.44,666.6) rotate(-90)">C4D1</text>
<text class="xl" transform="translate(187.75,666.6) rotate(-90)">C4D8</text>
<text class="xl" transform="translate(194.06,666.6) rotate(-90)">C4D15</text>
<text class="xl" transform="translate(200.37,666.6) rotate(-90)">C4D22</text>
<text class="xl" transform="translate(206.68,666.6) rotate(-90)">C5D1</text>
<text class="xl" transform="translate(212.99,666.6) rotate(-90)">C5D8</text>
<text class="xl" transform="translate(219.30,666.6) rotate(-90)">C5D15</text>
<text class="xl" transform="translate(225.61,666.6) rotate(-90)">C5D22</text>
<text class="xl" transform="translate(231.92,666.6) rotate(-90)">C6D1</text>
<text class="xl" transform="translate(238.23,666.6) rotate(-90)">C6D8</text>
<text class="xl" transform="translate(244.54,666.6) rotate(-90)">C6D15</text>
<text class="xl" transform="translate(250.85,666.6) rotate(-90)">C6D22</text>
<text class="xl" transform="translate(257.16,666.6) rotate(-90)">C7D1</text>
<text class="xl" transform="translate(263.47,666.6) rotate(-90)">C7D8</text>
<text class="xl" transform="translate(269.78,666.6) rotate(-90)">C7D15</text>
<text class="xl" transform="translate(276.09,666.6) rotate(-90)">C7D22</text>
<text class="xl" transform="translate(282.40,666.6) rotate(-90)">C8D1</text>
<text class="xl" transform="translate(288.71,666.6) rotate(-90)">C8D8</text>
<text class="xl" transform="translate(295.02,666.6) rotate(-90)">C8D15</text>
<text class="xl" transform="translate(301.33,666.6) rotate(-90)">C8D22</text>
<text class="xl" transform="translate(307.64,666.6) rotate(-90)">C9D1</text>
<text class="xl" transform="translate(313.95,666.6) rotate(-90)">C9D8</text>
<text class="xl" transform="translate(320.26,666.6) rotate(-90)">C9D15</text>
<text class="xl" transform="translate(326.57,666.6) rotate(-90)">C9D22</text>
<text class="xl" transform="translate(332.88,666.6) rotate(-90)">C10D1</text>
<text class="xl" transform="translate(345.50,666.6) rotate(-90)">C10D15</text>
<text class="xl" transform="translate(351.81,666.6) rotate(-90)">C10D22</text>
<text class="xl" transform="translate(358.12,666.6) rotate(-90)">C11D1</text>
<text class="xl" transform="translate(370.74,666.6) rotate(-90)">C11D15</text>
<text class="xl" transform="translate(377.05,666.6) rotate(-90)">C11D22</text>
<text class="xl" transform="translate(383.36,666.6) rotate(-90)">C12D1</text>
<text class="xl" transform="translate(395.98,666.6) rotate(-90)">C12D15</text>
<text class="xl" transform="translate(402.29,666.6) rotate(-90)">C12D22</text>
<text class="xl" transform="translate(408.60,666.6) rotate(-90)">C13D1</text>
<text class="xl" transform="translate(421.22,666.6) rotate(-90)">C13D15</text>
<text class="xl" transform="translate(427.53,666.6) rotate(-90)">C13D22</text>
<text class="xl" transform="translate(433.84,666.6) rotate(-90)">C14D1</text>
<text class="xl" transform="translate(446.46,666.6) rotate(-90)">C14D15</text>
<text class="xl" transform="translate(452.77,666.6) rotate(-90)">C14D22</text>
<text class="xl" transform="translate(459.08,666.6) rotate(-90)">C15D1</text>
<text class="xl" transform="translate(471.70,666.6) rotate(-90)">C15D15</text>
<text class="xl" transform="translate(478.01,666.6) rotate(-90)">C15D22</text>
<text class="xl" transform="translate(484.32,666.6) rotate(-90)">C16D1</text>
<text class="xl" transform="translate(496.94,666.6) rotate(-90)">C16D15</text>
<text class="xl" transform="translate(503.25,666.6) rotate(-90)">C16D22</text>
<text class="xl" transform="translate(509.56,666.6) rotate(-90)">C17D1</text>
<text x="288.3" y="701.9" class="cy" textLength="15.6" lengthAdjust="spacingAndGlyphs">Cycle</text>
<text x="27.4" y="710.2" class="tb">Number of patients</text>
<text x="72.2" y="722.2" class="tb" text-anchor="end">Tal 0.4 mg/kg weekly</text>
<text x="72.2" y="733.6" class="tb" text-anchor="end" textLength="60.6" lengthAdjust="spacingAndGlyphs">Tal 0.8 mg/kg EOW</text>
<text x="86.3" y="722.2" class="tb" text-anchor="middle">143</text>
<text x="103.0" y="722.2" class="tb" text-anchor="middle">139</text>
<text x="128.2" y="722.2" class="tb" text-anchor="middle">128</text>
<text x="153.4" y="722.2" class="tb" text-anchor="middle">121</text>
<text x="178.7" y="722.2" class="tb" text-anchor="middle">114</text>
<text x="203.9" y="722.2" class="tb" text-anchor="middle">100</text>
<text x="229.2" y="722.2" class="tb" text-anchor="middle">90</text>
<text x="254.4" y="722.2" class="tb" text-anchor="middle">81</text>
<text x="279.6" y="722.2" class="tb" text-anchor="middle">74</text>
<text x="304.9" y="722.2" class="tb" text-anchor="middle">67</text>
<text x="330.1" y="722.2" class="tb" text-anchor="middle">59</text>
<text x="355.4" y="722.2" class="tb" text-anchor="middle">55</text>
<text x="380.6" y="722.2" class="tb" text-anchor="middle">53</text>
<text x="405.9" y="722.2" class="tb" text-anchor="middle">49</text>
<text x="431.1" y="722.2" class="tb" text-anchor="middle">47</text>
<text x="456.3" y="722.2" class="tb" text-anchor="middle">42</text>
<text x="481.6" y="722.2" class="tb" text-anchor="middle">39</text>
<text x="506.8" y="722.2" class="tb" text-anchor="middle">38</text>
<text x="86.3" y="733.6" class="tb" text-anchor="middle">145</text>
<text x="103.0" y="733.6" class="tb" text-anchor="middle">138</text>
<text x="128.2" y="733.6" class="tb" text-anchor="middle">129</text>
<text x="153.4" y="733.6" class="tb" text-anchor="middle">118</text>
<text x="178.7" y="733.6" class="tb" text-anchor="middle">109</text>
<text x="203.9" y="733.6" class="tb" text-anchor="middle">100</text>
<text x="229.2" y="733.6" class="tb" text-anchor="middle">90</text>
<text x="254.4" y="733.6" class="tb" text-anchor="middle">84</text>
<text x="279.6" y="733.6" class="tb" text-anchor="middle">81</text>
<text x="304.9" y="733.6" class="tb" text-anchor="middle">77</text>
<text x="330.1" y="733.6" class="tb" text-anchor="middle">71</text>
<text x="355.4" y="733.6" class="tb" text-anchor="middle">62</text>
<text x="380.6" y="733.6" class="tb" text-anchor="middle">48</text>
<text x="405.9" y="733.6" class="tb" text-anchor="middle">37</text>
<text x="431.1" y="733.6" class="tb" text-anchor="middle">32</text>
<text x="456.3" y="733.6" class="tb" text-anchor="middle">22</text>
<text x="481.6" y="733.6" class="tb" text-anchor="middle">12</text>
<text x="506.8" y="733.6" class="tb" text-anchor="middle">9</text>
<path d="M207 742.4H230.2" stroke="#8aa3ba" stroke-width="1.6"/>
<circle cx="218.3" cy="742.4" r="2.1" fill="#e8eef4" stroke="#254d76" stroke-width="0.9"/>
<text x="233.6" y="744.8" class="tb">Tal 0.4 mg/kg weekly</text>
<path d="M303.8 742.4H327.6" stroke="#e07a92" stroke-width="1.6"/>
<path d="M315.6 740.3l2.6 4h-5.2z" fill="#b8163f"/>
<text x="331.3" y="744.8" class="tb" textLength="59.8" lengthAdjust="spacingAndGlyphs">Tal 0.8 mg/kg EOW</text>
<path d="M90.35 625.6V636.3M88.85 625.6h3M88.85 636.3h3M96.66 638.2V651.2M95.16 638.2h3M95.16 651.2h3M102.97 644.2V655.2M101.47 644.2h3M101.47 655.2h3M115.59 633.6V646.9M114.09 633.6h3M114.09 646.9h3M128.21 618.4V629.6M126.71 618.4h3M126.71 629.6h3M140.83 612.4V623.0M139.33 612.4h3M139.33 623.0h3M153.45 598.4V612.9M151.95 598.4h3M151.95 612.9h3M166.07 603.0V615.6M164.57 603.0h3M164.57 615.6h3M178.69 595.7V610.0M177.19 595.7h3M177.19 610.0h3M191.31 601.0V614.9M189.81 601.0h3M189.81 614.9h3M203.93 593.0V606.3M202.43 593.0h3M202.43 606.3h3M216.55 596.3V611.6M215.05 596.3h3M215.05 611.6h3M229.17 587.7V601.0M227.67 587.7h3M227.67 601.0h3M241.79 587.7V604.9M240.29 587.7h3M240.29 604.9h3M254.41 584.1V601.0M252.91 584.1h3M252.91 601.0h3M267.03 579.5V596.0M265.53 579.5h3M265.53 596.0h3M279.65 578.1V593.0M278.15 578.1h3M278.15 593.0h3M292.27 567.5V583.0M290.77 567.5h3M290.77 583.0h3M304.89 563.5V580.0M303.39 563.5h3M303.39 580.0h3M317.51 569.3V587.4M316.01 569.3h3M316.01 587.4h3M330.13 561.8V579.8M328.63 561.8h3M328.63 579.8h3M342.75 554.8V573.4M341.25 554.8h3M341.25 573.4h3M355.37 543.9V562.7M353.87 543.9h3M353.87 562.7h3M367.99 551.1V574.0M366.49 551.1h3M366.49 574.0h3M380.61 546.6V570.0M379.11 546.6h3M379.11 570.0h3M393.23 552.4V575.0M391.73 552.4h3M391.73 575.0h3M405.85 537.9V565.7M404.35 537.9h3M404.35 565.7h3M418.47 533.6V557.7M416.97 533.6h3M416.97 557.7h3M431.09 528.6V561.7M429.59 528.6h3M429.59 561.7h3M443.71 531.5V569.0M442.21 531.5h3M442.21 569.0h3M456.33 534.0V580.0M454.83 534.0h3M454.83 580.0h3M468.95 560.0V603.7M467.45 560.0h3M467.45 603.7h3M481.57 539.2V603.0M480.07 539.2h3M480.07 603.0h3M494.19 538.4V624.4M492.69 538.4h3M492.69 624.4h3M506.81 571.0V631.3M505.31 571.0h3M505.31 631.3h3" stroke="#cf8a9c" stroke-width="0.9" fill="none"/>
<path d="M90.35 621.3V632.7M88.85 621.3h3M88.85 632.7h3M102.97 642.9V651.5M101.47 642.9h3M101.47 651.5h3M109.28 627.9V639.8M107.78 627.9h3M107.78 639.8h3M115.59 622.3V632.9M114.09 622.3h3M114.09 632.9h3M121.90 615.7V628.7M120.40 615.7h3M120.40 628.7h3M128.21 612.4V623.0M126.71 612.4h3M126.71 623.0h3M134.52 611.1V622.3M133.02 611.1h3M133.02 622.3h3M140.83 608.0V618.4M139.33 608.0h3M139.33 618.4h3M147.14 605.0V617.2M145.64 605.0h3M145.64 617.2h3M153.45 601.3V612.7M151.95 601.3h3M151.95 612.7h3M159.76 603.4V615.3M158.26 603.4h3M158.26 615.3h3M166.07 595.0V607.6M164.57 595.0h3M164.57 607.6h3M172.38 593.3V605.6M170.88 593.3h3M170.88 605.6h3M178.69 594.4V606.3M177.19 594.4h3M177.19 606.3h3M185.00 587.1V601.3M183.50 587.1h3M183.50 601.3h3M191.31 584.4V598.4M189.81 584.4h3M189.81 598.4h3M197.62 586.7V600.3M196.12 586.7h3M196.12 600.3h3M203.93 584.4V597.3M202.43 584.4h3M202.43 597.3h3M210.24 585.0V600.0M208.74 585.0h3M208.74 600.0h3M216.55 575.1V589.4M215.05 575.1h3M215.05 589.4h3M222.86 568.5V583.0M221.36 568.5h3M221.36 583.0h3M229.17 575.8V590.3M227.67 575.8h3M227.67 590.3h3M235.48 572.2V586.8M233.98 572.2h3M233.98 586.8h3M241.79 568.2V583.0M240.29 568.2h3M240.29 583.0h3M248.10 565.5V581.1M246.60 565.5h3M246.60 581.1h3M254.41 570.5V584.1M252.91 570.5h3M252.91 584.1h3M260.72 566.9V584.1M259.22 566.9h3M259.22 584.1h3M267.03 567.0V582.0M265.53 567.0h3M265.53 582.0h3M273.34 561.4V579.0M271.84 561.4h3M271.84 579.0h3M279.65 569.3V585.0M278.15 569.3h3M278.15 585.0h3M285.96 564.4V583.9M284.46 564.4h3M284.46 583.9h3M292.27 564.4V579.0M290.77 564.4h3M290.77 579.0h3M298.58 559.5V578.4M297.08 559.5h3M297.08 578.4h3M304.89 562.2V579.0M303.39 562.2h3M303.39 579.0h3M311.20 566.4V585.0M309.70 566.4h3M309.70 585.0h3M317.51 556.1V574.4M316.01 556.1h3M316.01 574.4h3M323.82 544.5V568.4M322.32 544.5h3M322.32 568.4h3M330.13 561.6V579.5M328.63 561.6h3M328.63 579.5h3M342.75 564.7V582.0M341.25 564.7h3M341.25 582.0h3M349.06 553.5V576.3M347.56 553.5h3M347.56 576.3h3M355.37 557.2V574.0M353.87 557.2h3M353.87 574.0h3M367.99 553.5V569.4M366.49 553.5h3M366.49 569.4h3M374.30 547.5V569.4M372.80 547.5h3M372.80 569.4h3M380.61 550.5V570.0M379.11 550.5h3M379.11 570.0h3M393.23 545.5V564.4M391.73 545.5h3M391.73 564.4h3M399.54 528.3V545.1M398.04 528.3h3M398.04 545.1h3M405.85 544.7V565.7M404.35 544.7h3M404.35 565.7h3M418.47 551.1V580.3M416.97 551.1h3M416.97 580.3h3M424.78 532.3V552.2M423.28 532.3h3M423.28 552.2h3M431.09 547.8V562.8M429.59 547.8h3M429.59 562.8h3M443.71 546.5V569.0M442.21 546.5h3M442.21 569.0h3M450.02 537.4V556.0M448.52 537.4h3M448.52 556.0h3M456.33 549.6V579.0M454.83 549.6h3M454.83 579.0h3M468.95 545.0V591.0M467.45 545.0h3M467.45 591.0h3M475.26 530.1V555.6M473.76 530.1h3M473.76 555.6h3M481.57 539.2V567.1M480.07 539.2h3M480.07 567.1h3M494.19 538.4V571.8M492.69 538.4h3M492.69 571.8h3M500.50 528.1V548.3M499.00 528.1h3M499.00 548.3h3M506.81 547.7V567.9M505.31 547.7h3M505.31 567.9h3" stroke="#4d7597" stroke-width="1.0" fill="none"/>
<polyline points="90.35,627.0 102.97,646.9 109.28,633.6 115.59,627.4 121.90,621.7 128.21,617.3 134.52,615.7 140.83,613.0 147.14,611.3 153.45,607.0 159.76,609.0 166.07,601.3 172.38,600.0 178.69,600.3 185.00,594.4 191.31,591.1 197.62,593.3 203.93,591.1 210.24,592.7 216.55,582.4 222.86,575.4 229.17,582.8 235.48,579.1 241.79,575.1 248.10,573.5 254.41,577.1 260.72,575.4 267.03,574.0 273.34,570.1 279.65,577.0 285.96,573.7 292.27,571.7 298.58,568.8 304.89,570.4 311.20,575.4 317.51,565.1 323.82,556.3 330.13,571.0 342.75,573.1 349.06,564.7 355.37,565.4 367.99,561.7 374.30,558.5 380.61,558.8 393.23,556.7 399.54,536.5 405.85,552.2 418.47,565.0 424.78,541.8 431.09,555.1 443.71,555.1 450.02,547.1 456.33,557.8 468.95,568.3 475.26,541.9 481.57,555.1 494.19,561.5 500.50,538.7 506.81,557.5" stroke="#30679a" stroke-width="0.9" fill="none" stroke-linejoin="round"/>
<polyline points="90.35,630.0 96.66,643.8 102.97,648.6 115.59,639.6 128.21,622.6 140.83,616.8 153.45,606.0 166.07,609.0 178.69,603.4 191.31,607.6 203.93,599.4 216.55,603.6 229.17,594.3 241.79,596.3 254.41,593.4 267.03,587.6 279.65,585.0 292.27,574.4 304.89,572.0 317.51,577.7 330.13,571.5 342.75,565.1 355.37,553.5 367.99,561.7 380.61,559.0 393.23,561.1 405.85,552.4 418.47,548.2 431.09,545.1 443.71,551.4 456.33,557.8 468.95,573.1 481.57,571.0 494.19,582.2 506.81,600.8" stroke="#cc3559" stroke-width="0.9" fill="none" stroke-linejoin="round"/>
<ellipse cx="90.35" cy="627.0" rx="2.2" ry="2.05" fill="#fff" fill-opacity="0.6" stroke="#254d76" stroke-width="0.9"/>
<ellipse cx="102.97" cy="646.9" rx="2.2" ry="2.05" fill="#fff" fill-opacity="0.6" stroke="#254d76" stroke-width="0.9"/>
<ellipse cx="109.28" cy="633.6" rx="2.2" ry="2.05" fill="#fff" fill-opacity="0.6" stroke="#254d76" stroke-width="0.9"/>
<ellipse cx="115.59" cy="627.4" rx="2.2" ry="2.05" fill="#fff" fill-opacity="0.6" stroke="#254d76" stroke-width="0.9"/>
<ellipse cx="121.90" cy="621.7" rx="2.2" ry="2.05" fill="#fff" fill-opacity="0.6" stroke="#254d76" stroke-width="0.9"/>
<ellipse cx="128.21" cy="617.3" rx="2.2" ry="2.05" fill="#fff" fill-opacity="0.6" stroke="#254d76" stroke-width="0.9"/>
<ellipse cx="134.52" cy="615.7" rx="2.2" ry="2.05" fill="#fff" fill-opacity="0.6" stroke="#254d76" stroke-width="0.9"/>
<ellipse cx="140.83" cy="613.0" rx="2.2" ry="2.05" fill="#fff" fill-opacity="0.6" stroke="#254d76" stroke-width="0.9"/>
<ellipse cx="147.14" cy="611.3" rx="2.2" ry="2.05" fill="#fff" fill-opacity="0.6" stroke="#254d76" stroke-width="0.9"/>
<ellipse cx="153.45" cy="607.0" rx="2.2" ry="2.05" fill="#fff" fill-opacity="0.6" stroke="#254d76" stroke-width="0.9"/>
<ellipse cx="159.76" cy="609.0" rx="2.2" ry="2.05" fill="#fff" fill-opacity="0.6" stroke="#254d76" stroke-width="0.9"/>
<ellipse cx="166.07" cy="601.3" rx="2.2" ry="2.05" fill="#fff" fill-opacity="0.6" stroke="#254d76" stroke-width="0.9"/>
<ellipse cx="172.38" cy="600.0" rx="2.2" ry="2.05" fill="#fff" fill-opacity="0.6" stroke="#254d76" stroke-width="0.9"/>
<ellipse cx="178.69" cy="600.3" rx="2.2" ry="2.05" fill="#fff" fill-opacity="0.6" stroke="#254d76" stroke-width="0.9"/>
<ellipse cx="185.00" cy="594.4" rx="2.2" ry="2.05" fill="#fff" fill-opacity="0.6" stroke="#254d76" stroke-width="0.9"/>
<ellipse cx="191.31" cy="591.1" rx="2.2" ry="2.05" fill="#fff" fill-opacity="0.6" stroke="#254d76" stroke-width="0.9"/>
<ellipse cx="197.62" cy="593.3" rx="2.2" ry="2.05" fill="#fff" fill-opacity="0.6" stroke="#254d76" stroke-width="0.9"/>
<ellipse cx="203.93" cy="591.1" rx="2.2" ry="2.05" fill="#fff" fill-opacity="0.6" stroke="#254d76" stroke-width="0.9"/>
<ellipse cx="210.24" cy="592.7" rx="2.2" ry="2.05" fill="#fff" fill-opacity="0.6" stroke="#254d76" stroke-width="0.9"/>
<ellipse cx="216.55" cy="582.4" rx="2.2" ry="2.05" fill="#fff" fill-opacity="0.6" stroke="#254d76" stroke-width="0.9"/>
<ellipse cx="222.86" cy="575.4" rx="2.2" ry="2.05" fill="#fff" fill-opacity="0.6" stroke="#254d76" stroke-width="0.9"/>
<ellipse cx="229.17" cy="582.8" rx="2.2" ry="2.05" fill="#fff" fill-opacity="0.6" stroke="#254d76" stroke-width="0.9"/>
<ellipse cx="235.48" cy="579.1" rx="2.2" ry="2.05" fill="#fff" fill-opacity="0.6" stroke="#254d76" stroke-width="0.9"/>
<ellipse cx="241.79" cy="575.1" rx="2.2" ry="2.05" fill="#fff" fill-opacity="0.6" stroke="#254d76" stroke-width="0.9"/>
<ellipse cx="248.10" cy="573.5" rx="2.2" ry="2.05" fill="#fff" fill-opacity="0.6" stroke="#254d76" stroke-width="0.9"/>
<ellipse cx="254.41" cy="577.1" rx="2.2" ry="2.05" fill="#fff" fill-opacity="0.6" stroke="#254d76" stroke-width="0.9"/>
<ellipse cx="260.72" cy="575.4" rx="2.2" ry="2.05" fill="#fff" fill-opacity="0.6" stroke="#254d76" stroke-width="0.9"/>
<ellipse cx="267.03" cy="574.0" rx="2.2" ry="2.05" fill="#fff" fill-opacity="0.6" stroke="#254d76" stroke-width="0.9"/>
<ellipse cx="273.34" cy="570.1" rx="2.2" ry="2.05" fill="#fff" fill-opacity="0.6" stroke="#254d76" stroke-width="0.9"/>
<ellipse cx="279.65" cy="577.0" rx="2.2" ry="2.05" fill="#fff" fill-opacity="0.6" stroke="#254d76" stroke-width="0.9"/>
<ellipse cx="285.96" cy="573.7" rx="2.2" ry="2.05" fill="#fff" fill-opacity="0.6" stroke="#254d76" stroke-width="0.9"/>
<ellipse cx="292.27" cy="571.7" rx="2.2" ry="2.05" fill="#fff" fill-opacity="0.6" stroke="#254d76" stroke-width="0.9"/>
<ellipse cx="298.58" cy="568.8" rx="2.2" ry="2.05" fill="#fff" fill-opacity="0.6" stroke="#254d76" stroke-width="0.9"/>
<ellipse cx="304.89" cy="570.4" rx="2.2" ry="2.05" fill="#fff" fill-opacity="0.6" stroke="#254d76" stroke-width="0.9"/>
<ellipse cx="311.20" cy="575.4" rx="2.2" ry="2.05" fill="#fff" fill-opacity="0.6" stroke="#254d76" stroke-width="0.9"/>
<ellipse cx="317.51" cy="565.1" rx="2.2" ry="2.05" fill="#fff" fill-opacity="0.6" stroke="#254d76" stroke-width="0.9"/>
<ellipse cx="323.82" cy="556.3" rx="2.2" ry="2.05" fill="#fff" fill-opacity="0.6" stroke="#254d76" stroke-width="0.9"/>
<ellipse cx="330.13" cy="571.0" rx="2.2" ry="2.05" fill="#fff" fill-opacity="0.6" stroke="#254d76" stroke-width="0.9"/>
<ellipse cx="342.75" cy="573.1" rx="2.2" ry="2.05" fill="#fff" fill-opacity="0.6" stroke="#254d76" stroke-width="0.9"/>
<ellipse cx="349.06" cy="564.7" rx="2.2" ry="2.05" fill="#fff" fill-opacity="0.6" stroke="#254d76" stroke-width="0.9"/>
<ellipse cx="355.37" cy="565.4" rx="2.2" ry="2.05" fill="#fff" fill-opacity="0.6" stroke="#254d76" stroke-width="0.9"/>
<ellipse cx="367.99" cy="561.7" rx="2.2" ry="2.05" fill="#fff" fill-opacity="0.6" stroke="#254d76" stroke-width="0.9"/>
<ellipse cx="374.30" cy="558.5" rx="2.2" ry="2.05" fill="#fff" fill-opacity="0.6" stroke="#254d76" stroke-width="0.9"/>
<ellipse cx="380.61" cy="558.8" rx="2.2" ry="2.05" fill="#fff" fill-opacity="0.6" stroke="#254d76" stroke-width="0.9"/>
<ellipse cx="393.23" cy="556.7" rx="2.2" ry="2.05" fill="#fff" fill-opacity="0.6" stroke="#254d76" stroke-width="0.9"/>
<ellipse cx="399.54" cy="536.5" rx="2.2" ry="2.05" fill="#fff" fill-opacity="0.6" stroke="#254d76" stroke-width="0.9"/>
<ellipse cx="405.85" cy="552.2" rx="2.2" ry="2.05" fill="#fff" fill-opacity="0.6" stroke="#254d76" stroke-width="0.9"/>
<ellipse cx="418.47" cy="565.0" rx="2.2" ry="2.05" fill="#fff" fill-opacity="0.6" stroke="#254d76" stroke-width="0.9"/>
<ellipse cx="424.78" cy="541.8" rx="2.2" ry="2.05" fill="#fff" fill-opacity="0.6" stroke="#254d76" stroke-width="0.9"/>
<ellipse cx="431.09" cy="555.1" rx="2.2" ry="2.05" fill="#fff" fill-opacity="0.6" stroke="#254d76" stroke-width="0.9"/>
<ellipse cx="443.71" cy="555.1" rx="2.2" ry="2.05" fill="#fff" fill-opacity="0.6" stroke="#254d76" stroke-width="0.9"/>
<ellipse cx="450.02" cy="547.1" rx="2.2" ry="2.05" fill="#fff" fill-opacity="0.6" stroke="#254d76" stroke-width="0.9"/>
<ellipse cx="456.33" cy="557.8" rx="2.2" ry="2.05" fill="#fff" fill-opacity="0.6" stroke="#254d76" stroke-width="0.9"/>
<ellipse cx="468.95" cy="568.3" rx="2.2" ry="2.05" fill="#fff" fill-opacity="0.6" stroke="#254d76" stroke-width="0.9"/>
<ellipse cx="475.26" cy="541.9" rx="2.2" ry="2.05" fill="#fff" fill-opacity="0.6" stroke="#254d76" stroke-width="0.9"/>
<ellipse cx="481.57" cy="555.1" rx="2.2" ry="2.05" fill="#fff" fill-opacity="0.6" stroke="#254d76" stroke-width="0.9"/>
<ellipse cx="494.19" cy="561.5" rx="2.2" ry="2.05" fill="#fff" fill-opacity="0.6" stroke="#254d76" stroke-width="0.9"/>
<ellipse cx="500.50" cy="538.7" rx="2.2" ry="2.05" fill="#fff" fill-opacity="0.6" stroke="#254d76" stroke-width="0.9"/>
<ellipse cx="506.81" cy="557.5" rx="2.2" ry="2.05" fill="#fff" fill-opacity="0.6" stroke="#254d76" stroke-width="0.9"/>
<path d="M90.35 627.70l2.6 4h-5.2zM96.66 641.50l2.6 4h-5.2zM102.97 646.30l2.6 4h-5.2zM115.59 637.30l2.6 4h-5.2zM128.21 620.30l2.6 4h-5.2zM140.83 614.50l2.6 4h-5.2zM153.45 603.70l2.6 4h-5.2zM166.07 606.70l2.6 4h-5.2zM178.69 601.10l2.6 4h-5.2zM191.31 605.30l2.6 4h-5.2zM203.93 597.10l2.6 4h-5.2zM216.55 601.30l2.6 4h-5.2zM229.17 592.00l2.6 4h-5.2zM241.79 594.00l2.6 4h-5.2zM254.41 591.10l2.6 4h-5.2zM267.03 585.30l2.6 4h-5.2zM279.65 582.70l2.6 4h-5.2zM292.27 572.10l2.6 4h-5.2zM304.89 569.70l2.6 4h-5.2zM317.51 575.40l2.6 4h-5.2zM330.13 569.20l2.6 4h-5.2zM342.75 562.80l2.6 4h-5.2zM355.37 551.20l2.6 4h-5.2zM367.99 559.40l2.6 4h-5.2zM380.61 556.70l2.6 4h-5.2zM393.23 558.80l2.6 4h-5.2zM405.85 550.10l2.6 4h-5.2zM418.47 545.90l2.6 4h-5.2zM431.09 542.80l2.6 4h-5.2zM443.71 549.10l2.6 4h-5.2zM456.33 555.50l2.6 4h-5.2zM468.95 570.80l2.6 4h-5.2zM481.57 568.70l2.6 4h-5.2zM494.19 579.90l2.6 4h-5.2zM506.81 598.50l2.6 4h-5.2z" fill="#b8163f"/>
</g>
</svg></div>
</body></html>
